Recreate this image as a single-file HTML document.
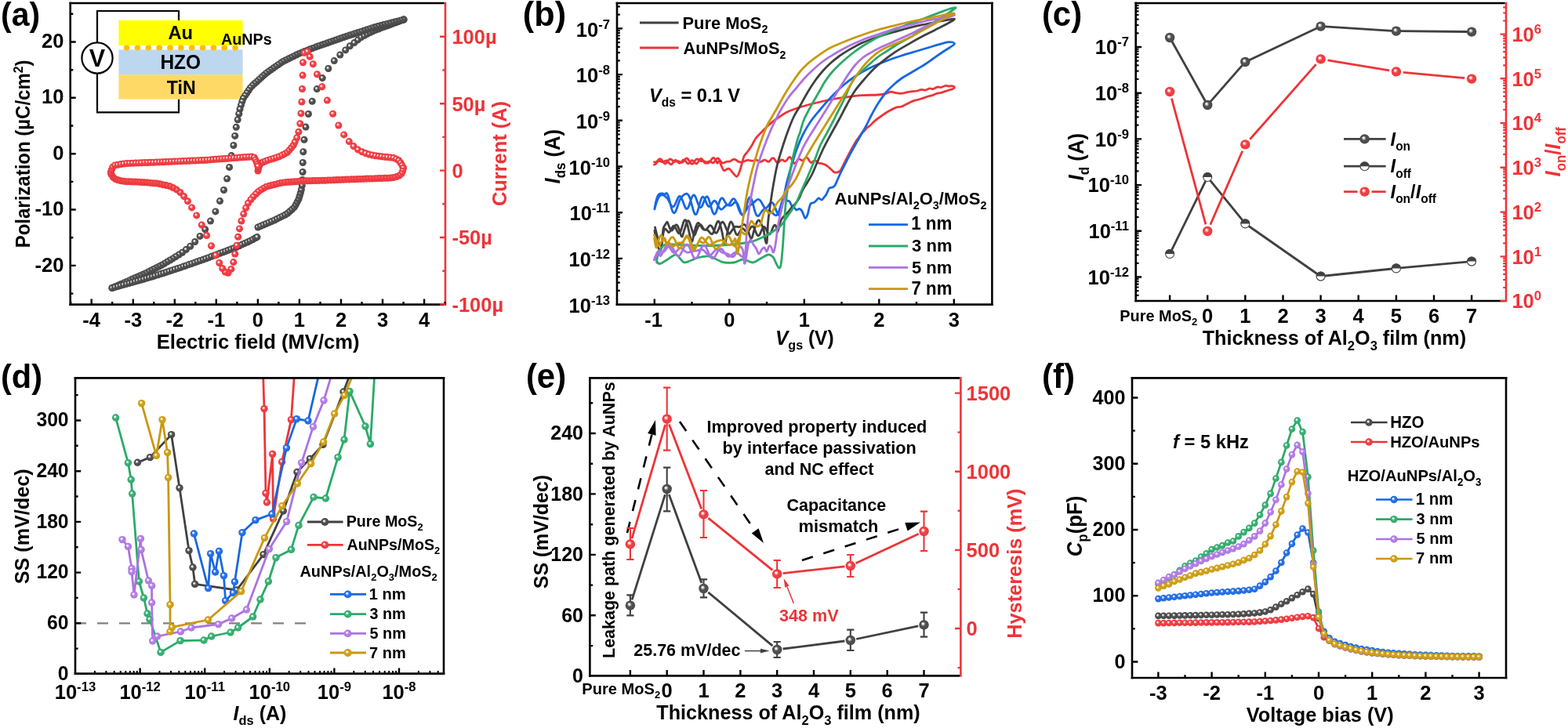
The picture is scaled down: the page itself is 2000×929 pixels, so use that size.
<!DOCTYPE html>
<html lang="en"><head><meta charset="utf-8"><title>Figure</title>
<style>html,body{margin:0;padding:0;background:#fff}body{width:2000px;height:929px}svg{display:block}text{font-family:'Liberation Sans',Arial,Helvetica,sans-serif;font-weight:bold}</style></head>
<body>

<svg width="2000" height="929" viewBox="0 0 2000 929">
<rect width="2000" height="929" fill="#fff"/>
<defs>
<radialGradient id="sk" cx="0.5" cy="0.5" r="0.52" fx="0.37" fy="0.35"><stop offset="0" stop-color="#fff"/><stop offset="0.13" stop-color="#f4f4f4"/><stop offset="0.46" stop-color="#4e4e4e"/><stop offset="0.8" stop-color="#4e4e4e"/><stop offset="1" stop-color="#3a3a3a"/></radialGradient>
<radialGradient id="sr" cx="0.5" cy="0.5" r="0.52" fx="0.37" fy="0.35"><stop offset="0" stop-color="#fff"/><stop offset="0.13" stop-color="#fff2f2"/><stop offset="0.46" stop-color="#f03e44"/><stop offset="0.8" stop-color="#f03e44"/><stop offset="1" stop-color="#e82a30"/></radialGradient>
<radialGradient id="sb" cx="0.5" cy="0.5" r="0.52" fx="0.37" fy="0.35"><stop offset="0" stop-color="#fff"/><stop offset="0.13" stop-color="#f0f6ff"/><stop offset="0.46" stop-color="#2470e8"/><stop offset="0.8" stop-color="#2470e8"/><stop offset="1" stop-color="#0f58d0"/></radialGradient>
<radialGradient id="sg" cx="0.5" cy="0.5" r="0.52" fx="0.37" fy="0.35"><stop offset="0" stop-color="#fff"/><stop offset="0.13" stop-color="#f0fff6"/><stop offset="0.46" stop-color="#36b072"/><stop offset="0.8" stop-color="#36b072"/><stop offset="1" stop-color="#209858"/></radialGradient>
<radialGradient id="sp" cx="0.5" cy="0.5" r="0.52" fx="0.37" fy="0.35"><stop offset="0" stop-color="#fff"/><stop offset="0.13" stop-color="#fbf5ff"/><stop offset="0.46" stop-color="#b37ee6"/><stop offset="0.8" stop-color="#b37ee6"/><stop offset="1" stop-color="#a066d8"/></radialGradient>
<radialGradient id="sy" cx="0.5" cy="0.5" r="0.52" fx="0.37" fy="0.35"><stop offset="0" stop-color="#fff"/><stop offset="0.13" stop-color="#fffbea"/><stop offset="0.46" stop-color="#d0a018"/><stop offset="0.8" stop-color="#d0a018"/><stop offset="1" stop-color="#ba8a04"/></radialGradient>
</defs>

<g id="pa">
<path d="M88.4 4H566.7" stroke="#000" stroke-width="2.6" fill="none"/>
<path d="M88.4 388.6H566.7" stroke="#000" stroke-width="2.6" fill="none"/>
<path d="M89.7 2.7V389.9" stroke="#000" stroke-width="2.6" fill="none"/>
<path d="M568 2.7V389.9" stroke="#ee3438" stroke-width="2.6" fill="none"/>
<path d="M116.7 388.6V381.6M169.8 388.6V381.6M222.8 388.6V381.6M275.8 388.6V381.6M328.9 388.6V381.6M381.9 388.6V381.6M435 388.6V381.6M488 388.6V381.6M541.1 388.6V381.6" stroke="#000" stroke-width="2.4" fill="none"/>
<path d="M90.2 388.6V385M143.2 388.6V385M196.3 388.6V385M249.3 388.6V385M302.4 388.6V385M355.4 388.6V385M408.5 388.6V385M461.5 388.6V385M514.6 388.6V385M567.6 388.6V385" stroke="#000" stroke-width="2.4" fill="none"/>
<path d="M89.7 338.9H96.7M89.7 267.5H96.7M89.7 196.2H96.7M89.7 124.8H96.7M89.7 53.5H96.7" stroke="#000" stroke-width="2.4" fill="none"/>
<path d="M89.7 374.6H93.3M89.7 303.2H93.3M89.7 231.9H93.3M89.7 160.5H93.3M89.7 89.2H93.3M89.7 17.8H93.3" stroke="#000" stroke-width="2.4" fill="none"/>
<path d="M568 388.4H561M568 303H561M568 217.6H561M568 132.2H561M568 46.8H561" stroke="#ee3438" stroke-width="2.4" fill="none"/>
<path d="M568 345.7H564.4M568 260.3H564.4M568 174.9H564.4M568 89.5H564.4" stroke="#ee3438" stroke-width="2.4" fill="none"/>
<text transform="translate(116.7 417.2) scale(1 1.04)" font-size="25.5" text-anchor="middle"><tspan>-4</tspan></text>
<text transform="translate(169.8 417.2) scale(1 1.04)" font-size="25.5" text-anchor="middle"><tspan>-3</tspan></text>
<text transform="translate(222.8 417.2) scale(1 1.04)" font-size="25.5" text-anchor="middle"><tspan>-2</tspan></text>
<text transform="translate(275.8 417.2) scale(1 1.04)" font-size="25.5" text-anchor="middle"><tspan>-1</tspan></text>
<text transform="translate(328.9 417.2) scale(1 1.04)" font-size="25.5" text-anchor="middle"><tspan>0</tspan></text>
<text transform="translate(381.9 417.2) scale(1 1.04)" font-size="25.5" text-anchor="middle"><tspan>1</tspan></text>
<text transform="translate(435 417.2) scale(1 1.04)" font-size="25.5" text-anchor="middle"><tspan>2</tspan></text>
<text transform="translate(488 417.2) scale(1 1.04)" font-size="25.5" text-anchor="middle"><tspan>3</tspan></text>
<text transform="translate(541.1 417.2) scale(1 1.04)" font-size="25.5" text-anchor="middle"><tspan>4</tspan></text>
<text transform="translate(81.4 346.5) scale(1 1.04)" font-size="25.5" text-anchor="end"><tspan>-20</tspan></text>
<text transform="translate(81.4 275.1) scale(1 1.04)" font-size="25.5" text-anchor="end"><tspan>-10</tspan></text>
<text transform="translate(81.4 203.8) scale(1 1.04)" font-size="25.5" text-anchor="end"><tspan>0</tspan></text>
<text transform="translate(81.4 132.4) scale(1 1.04)" font-size="25.5" text-anchor="end"><tspan>10</tspan></text>
<text transform="translate(81.4 61.1) scale(1 1.04)" font-size="25.5" text-anchor="end"><tspan>20</tspan></text>
<text transform="translate(576.4 56.2) scale(1 1.04)" font-size="25.5" fill="#ee3438"><tspan>100µ</tspan></text>
<text transform="translate(576.4 141.6) scale(1 1.04)" font-size="25.5" fill="#ee3438"><tspan>50µ</tspan></text>
<text transform="translate(576.4 227) scale(1 1.04)" font-size="25.5" fill="#ee3438"><tspan>0</tspan></text>
<text transform="translate(576.4 312.4) scale(1 1.04)" font-size="25.5" fill="#ee3438"><tspan>-50µ</tspan></text>
<text transform="translate(576.4 397.8) scale(1 1.04)" font-size="25.5" fill="#ee3438"><tspan>-100µ</tspan></text>
<text transform="translate(199.7 444.5) scale(1 1.04)" font-size="25.6"><tspan>Electric field (MV/cm)</tspan></text>
<text transform="translate(38.2 316.3) rotate(-90) scale(1 1.04)" font-size="24"><tspan>Polarization (µC/cm</tspan><tspan dy="-9" font-size="15.7">2</tspan><tspan dy="9">)</tspan></text>
<text transform="translate(645.5 263) rotate(-90) scale(1 1.04)" font-size="25.4" fill="#ee3438"><tspan>Current (A)</tspan></text>
<text transform="translate(1 32.5) scale(1 1.04)" font-size="41"><tspan>(a)</tspan></text>
<path d="M228 26V14H124V54M124 94V143.4H228V126.6" fill="none" stroke="#000" stroke-width="2.2"/>
<rect x="151.4" y="26" width="158.2" height="32" fill="#ffff00"/>
<rect x="151.4" y="63.4" width="158.2" height="32.2" fill="#bdd7ee"/>
<rect x="151.4" y="95.4" width="158.2" height="31.2" fill="#ffd966"/>
<g fill="#ffc000"><ellipse cx="161.6" cy="61" rx="3.9" ry="3.4"/><ellipse cx="175.4" cy="61" rx="3.9" ry="3.4"/><ellipse cx="189.3" cy="61" rx="3.9" ry="3.4"/><ellipse cx="203.1" cy="61" rx="3.9" ry="3.4"/><ellipse cx="217" cy="61" rx="3.9" ry="3.4"/><ellipse cx="230.8" cy="61" rx="3.9" ry="3.4"/><ellipse cx="244.7" cy="61" rx="3.9" ry="3.4"/><ellipse cx="258.6" cy="61" rx="3.9" ry="3.4"/><ellipse cx="272.4" cy="61" rx="3.9" ry="3.4"/><ellipse cx="286.2" cy="61" rx="3.9" ry="3.4"/><ellipse cx="300.1" cy="61" rx="3.9" ry="3.4"/></g>
<circle cx="124" cy="74" r="19.6" fill="#fff" stroke="#000" stroke-width="2.2"/>
<text transform="translate(113.8 85) scale(1 1.04)" font-size="30.6"><tspan>V</tspan></text>
<text transform="translate(214.4 50) scale(1 1.04)" font-size="23.7"><tspan>Au</tspan></text>
<text transform="translate(204.4 88) scale(1 1.04)" font-size="24.5"><tspan>HZO</tspan></text>
<text transform="translate(212.7 119.6) scale(1 1.04)" font-size="23.2"><tspan>TiN</tspan></text>
<text transform="translate(281.9 57) scale(1 1.04)" font-size="19.8"><tspan>AuNPs</tspan></text>
<g fill="url(#sk)"><circle cx="329" cy="290" r="4.5"/><circle cx="332.5" cy="288.5" r="4.5"/><circle cx="336" cy="287" r="4.5"/><circle cx="339.5" cy="285.5" r="4.5"/><circle cx="343" cy="284" r="4.5"/><circle cx="346.5" cy="282.5" r="4.5"/><circle cx="350" cy="281" r="4.5"/><circle cx="353.4" cy="279.3" r="4.5"/><circle cx="356.8" cy="277.6" r="4.5"/><circle cx="360.2" cy="275.9" r="4.5"/><circle cx="363.6" cy="274.2" r="4.5"/><circle cx="366.8" cy="272.3" r="4.5"/><circle cx="369.6" cy="269.7" r="4.5"/><circle cx="372.5" cy="267.2" r="4.5"/><circle cx="375.3" cy="264.6" r="4.5"/><circle cx="377.3" cy="261.3" r="4.5"/><circle cx="379.1" cy="257.8" r="4.5"/><circle cx="380.9" cy="254.2" r="4.5"/><circle cx="382.1" cy="250.3" r="4.5"/><circle cx="383.3" cy="246.3" r="4.5"/><circle cx="384.4" cy="242" r="4.5"/><circle cx="385.3" cy="236.7" r="4.5"/><circle cx="385.8" cy="229.4" r="4.5"/><circle cx="386.1" cy="219.5" r="4.5"/><circle cx="386.3" cy="207.5" r="4.5"/><circle cx="386.8" cy="193.7" r="4.5"/><circle cx="388" cy="178.3" r="4.5"/><circle cx="390" cy="162.1" r="4.5"/><circle cx="393.4" cy="145.5" r="4.5"/><circle cx="398.2" cy="129.2" r="4.5"/><circle cx="404.3" cy="113.6" r="4.5"/><circle cx="411.2" cy="99.6" r="4.5"/><circle cx="418.8" cy="87.5" r="4.5"/><circle cx="426.3" cy="77.6" r="4.5"/><circle cx="433.8" cy="70" r="4.5"/><circle cx="440.7" cy="63.9" r="4.5"/><circle cx="446.3" cy="58.8" r="4.5"/><circle cx="451.9" cy="54.6" r="4.5"/><circle cx="456.5" cy="50.9" r="4.5"/><circle cx="460.7" cy="47.6" r="4.5"/><circle cx="464.7" cy="45.4" r="4.5"/><circle cx="468.4" cy="43.4" r="4.5"/><circle cx="472.1" cy="41.6" r="4.5"/><circle cx="475.7" cy="39.9" r="4.5"/><circle cx="479.2" cy="38.3" r="4.5"/><circle cx="482.8" cy="37" r="4.5"/><circle cx="486.3" cy="35.6" r="4.5"/><circle cx="489.9" cy="34.3" r="4.5"/><circle cx="493.5" cy="33" r="4.5"/><circle cx="497" cy="31.7" r="4.5"/><circle cx="500.6" cy="30.4" r="4.5"/><circle cx="504.2" cy="29" r="4.5"/><circle cx="507.7" cy="27.7" r="4.5"/><circle cx="511.3" cy="26.4" r="4.5"/><circle cx="514.8" cy="25.1" r="4.5"/><circle cx="515" cy="25" r="4.5"/><circle cx="515" cy="25" r="4.5"/><circle cx="511.3" cy="25.9" r="4.5"/><circle cx="507.6" cy="26.9" r="4.5"/><circle cx="504" cy="27.8" r="4.5"/><circle cx="500.3" cy="28.8" r="4.5"/><circle cx="496.6" cy="29.7" r="4.5"/><circle cx="492.9" cy="30.7" r="4.5"/><circle cx="489.2" cy="31.6" r="4.5"/><circle cx="485.6" cy="32.6" r="4.5"/><circle cx="481.9" cy="33.5" r="4.5"/><circle cx="478.2" cy="34.6" r="4.5"/><circle cx="474.6" cy="35.7" r="4.5"/><circle cx="471" cy="36.9" r="4.5"/><circle cx="467.4" cy="38.1" r="4.5"/><circle cx="463.8" cy="39.3" r="4.5"/><circle cx="460.2" cy="40.4" r="4.5"/><circle cx="456.5" cy="41.6" r="4.5"/><circle cx="452.9" cy="42.8" r="4.5"/><circle cx="449.3" cy="44" r="4.5"/><circle cx="445.7" cy="45.1" r="4.5"/><circle cx="442.1" cy="46.3" r="4.5"/><circle cx="438.5" cy="47.5" r="4.5"/><circle cx="434.9" cy="48.8" r="4.5"/><circle cx="431.3" cy="50" r="4.5"/><circle cx="427.7" cy="51.3" r="4.5"/><circle cx="424.1" cy="52.6" r="4.5"/><circle cx="420.6" cy="53.8" r="4.5"/><circle cx="417" cy="55.1" r="4.5"/><circle cx="413.4" cy="56.3" r="4.5"/><circle cx="409.8" cy="57.6" r="4.5"/><circle cx="406.2" cy="58.8" r="4.5"/><circle cx="402.6" cy="60.1" r="4.5"/><circle cx="399.1" cy="61.4" r="4.5"/><circle cx="395.5" cy="62.8" r="4.5"/><circle cx="392" cy="64.2" r="4.5"/><circle cx="388.5" cy="65.6" r="4.5"/><circle cx="384.9" cy="67" r="4.5"/><circle cx="381.4" cy="68.4" r="4.5"/><circle cx="378" cy="70" r="4.5"/><circle cx="374.6" cy="71.7" r="4.5"/><circle cx="371.2" cy="73.4" r="4.5"/><circle cx="367.8" cy="75.1" r="4.5"/><circle cx="364.4" cy="76.8" r="4.5"/><circle cx="361" cy="78.5" r="4.5"/><circle cx="357.8" cy="80.6" r="4.5"/><circle cx="354.7" cy="82.7" r="4.5"/><circle cx="351.5" cy="84.9" r="4.5"/><circle cx="348.4" cy="87.1" r="4.5"/><circle cx="345.3" cy="89.3" r="4.5"/><circle cx="342.2" cy="91.5" r="4.5"/><circle cx="339.2" cy="93.7" r="4.5"/><circle cx="336.3" cy="96.3" r="4.5"/><circle cx="333.5" cy="98.8" r="4.5"/><circle cx="330.7" cy="101.4" r="4.5"/><circle cx="327.8" cy="104" r="4.5"/><circle cx="324.9" cy="106.5" r="4.5"/><circle cx="322.1" cy="109.1" r="4.5"/><circle cx="319.4" cy="111.9" r="4.5"/><circle cx="317.2" cy="115.2" r="4.5"/><circle cx="315" cy="118.5" r="4.5"/><circle cx="312.7" cy="121.9" r="4.5"/><circle cx="310.4" cy="125.4" r="4.5"/><circle cx="308.9" cy="129.5" r="4.5"/><circle cx="307.5" cy="134.1" r="4.5"/><circle cx="306" cy="139.2" r="4.5"/><circle cx="304.8" cy="145.2" r="4.5"/><circle cx="303.2" cy="152.8" r="4.5"/><circle cx="301.3" cy="162.3" r="4.5"/><circle cx="299.7" cy="173.4" r="4.5"/><circle cx="297.9" cy="185.5" r="4.5"/><circle cx="295.2" cy="198.6" r="4.5"/><circle cx="292.6" cy="213.4" r="4.5"/><circle cx="289.6" cy="228.1" r="4.5"/><circle cx="285.5" cy="242.5" r="4.5"/><circle cx="280.5" cy="256.6" r="4.5"/><circle cx="274.9" cy="269.9" r="4.5"/><circle cx="268.5" cy="282.1" r="4.5"/><circle cx="261.7" cy="292.8" r="4.5"/><circle cx="255.1" cy="301.4" r="4.5"/><circle cx="248.7" cy="308.5" r="4.5"/><circle cx="242.7" cy="314.2" r="4.5"/><circle cx="237.3" cy="318.6" r="4.5"/><circle cx="232.5" cy="322.2" r="4.5"/><circle cx="228.2" cy="325" r="4.5"/><circle cx="224.3" cy="327.5" r="4.5"/><circle cx="220.5" cy="329.9" r="4.5"/><circle cx="216.9" cy="332" r="4.5"/><circle cx="213.3" cy="334.1" r="4.5"/><circle cx="209.8" cy="336.2" r="4.5"/><circle cx="206.4" cy="338.2" r="4.5"/><circle cx="202.9" cy="340" r="4.5"/><circle cx="199.4" cy="341.8" r="4.5"/><circle cx="196" cy="343.5" r="4.5"/><circle cx="192.5" cy="345.2" r="4.5"/><circle cx="189.1" cy="346.9" r="4.5"/><circle cx="185.7" cy="348.7" r="4.5"/><circle cx="182.2" cy="350.2" r="4.5"/><circle cx="178.8" cy="351.8" r="4.5"/><circle cx="175.3" cy="353.3" r="4.5"/><circle cx="171.8" cy="354.8" r="4.5"/><circle cx="168.3" cy="356.3" r="4.5"/><circle cx="164.8" cy="357.9" r="4.5"/><circle cx="161.4" cy="359.4" r="4.5"/><circle cx="157.9" cy="360.9" r="4.5"/><circle cx="154.4" cy="362.5" r="4.5"/><circle cx="150.9" cy="364" r="4.5"/><circle cx="147.5" cy="365.5" r="4.5"/><circle cx="144" cy="367.1" r="4.5"/><circle cx="143" cy="367.5" r="4.5"/><circle cx="143" cy="367.5" r="4.5"/><circle cx="146.7" cy="366.5" r="4.5"/><circle cx="150.3" cy="365.5" r="4.5"/><circle cx="154" cy="364.4" r="4.5"/><circle cx="157.6" cy="363.4" r="4.5"/><circle cx="161.3" cy="362.4" r="4.5"/><circle cx="165" cy="361.4" r="4.5"/><circle cx="168.6" cy="360.4" r="4.5"/><circle cx="172.3" cy="359.3" r="4.5"/><circle cx="175.9" cy="358.3" r="4.5"/><circle cx="179.6" cy="357.2" r="4.5"/><circle cx="183.2" cy="356.2" r="4.5"/><circle cx="186.9" cy="355.1" r="4.5"/><circle cx="190.5" cy="354" r="4.5"/><circle cx="194.2" cy="353" r="4.5"/><circle cx="197.8" cy="351.9" r="4.5"/><circle cx="201.5" cy="350.8" r="4.5"/><circle cx="205.1" cy="349.6" r="4.5"/><circle cx="208.7" cy="348.5" r="4.5"/><circle cx="212.3" cy="347.3" r="4.5"/><circle cx="215.9" cy="346.1" r="4.5"/><circle cx="219.5" cy="344.9" r="4.5"/><circle cx="223.1" cy="343.7" r="4.5"/><circle cx="226.8" cy="342.6" r="4.5"/><circle cx="230.4" cy="341.4" r="4.5"/><circle cx="233.9" cy="340.1" r="4.5"/><circle cx="237.5" cy="338.9" r="4.5"/><circle cx="241.1" cy="337.6" r="4.5"/><circle cx="244.7" cy="336.4" r="4.5"/><circle cx="248.3" cy="335.1" r="4.5"/><circle cx="251.9" cy="333.8" r="4.5"/><circle cx="255.5" cy="332.6" r="4.5"/><circle cx="259.1" cy="331.3" r="4.5"/><circle cx="262.6" cy="330" r="4.5"/><circle cx="266.2" cy="328.7" r="4.5"/><circle cx="269.7" cy="327.3" r="4.5"/><circle cx="273.3" cy="326" r="4.5"/><circle cx="276.9" cy="324.7" r="4.5"/><circle cx="280.4" cy="323.3" r="4.5"/><circle cx="284" cy="322" r="4.5"/><circle cx="287.5" cy="320.7" r="4.5"/><circle cx="291.1" cy="319.3" r="4.5"/><circle cx="294.6" cy="318" r="4.5"/><circle cx="298.2" cy="316.7" r="4.5"/><circle cx="301.7" cy="315.2" r="4.5"/><circle cx="305.2" cy="313.7" r="4.5"/><circle cx="308.6" cy="312.1" r="4.5"/><circle cx="312.1" cy="310.6" r="4.5"/><circle cx="315.6" cy="309" r="4.5"/><circle cx="319" cy="307.4" r="4.5"/><circle cx="322.4" cy="305.7" r="4.5"/><circle cx="325.7" cy="303.8" r="4.5"/><circle cx="328" cy="302.6" r="4.5"/></g>
<g fill="url(#sr)"><circle cx="329" cy="218" r="4.5"/><circle cx="329.5" cy="215.5" r="4.5"/><circle cx="330" cy="212.9" r="4.5"/><circle cx="331.1" cy="210.5" r="4.5"/><circle cx="332.6" cy="208.3" r="4.5"/><circle cx="335.4" cy="207" r="4.5"/><circle cx="338.4" cy="205.7" r="4.5"/><circle cx="341.8" cy="204.4" r="4.5"/><circle cx="345.4" cy="203.3" r="4.5"/><circle cx="349.1" cy="202.2" r="4.5"/><circle cx="352.7" cy="201" r="4.5"/><circle cx="356.3" cy="199.8" r="4.5"/><circle cx="359.7" cy="198.1" r="4.5"/><circle cx="363.1" cy="196.4" r="4.5"/><circle cx="366.4" cy="194.5" r="4.5"/><circle cx="369" cy="191.6" r="4.5"/><circle cx="371.7" cy="188.5" r="4.5"/><circle cx="374.3" cy="185.3" r="4.5"/><circle cx="376.2" cy="181.1" r="4.5"/><circle cx="378.7" cy="175.7" r="4.5"/><circle cx="380.9" cy="168.2" r="4.5"/><circle cx="382.8" cy="157.8" r="4.5"/><circle cx="384" cy="144.8" r="4.5"/><circle cx="384.9" cy="130" r="4.5"/><circle cx="385.5" cy="113.5" r="4.5"/><circle cx="386.1" cy="96.1" r="4.5"/><circle cx="386.5" cy="79.7" r="4.5"/><circle cx="388.2" cy="67.4" r="4.5"/><circle cx="392.1" cy="65.8" r="4.5"/><circle cx="395.2" cy="72.2" r="4.5"/><circle cx="399.3" cy="81.8" r="4.5"/><circle cx="404.5" cy="94.8" r="4.5"/><circle cx="410.7" cy="110.7" r="4.5"/><circle cx="417.4" cy="128.1" r="4.5"/><circle cx="424.6" cy="145.2" r="4.5"/><circle cx="431.8" cy="160" r="4.5"/><circle cx="438.7" cy="171.9" r="4.5"/><circle cx="445.3" cy="180.6" r="4.5"/><circle cx="451" cy="186.6" r="4.5"/><circle cx="456.5" cy="190.9" r="4.5"/><circle cx="461.7" cy="193.8" r="4.5"/><circle cx="466.4" cy="195.6" r="4.5"/><circle cx="470.7" cy="197.1" r="4.5"/><circle cx="475" cy="198" r="4.5"/><circle cx="479" cy="198.8" r="4.5"/><circle cx="482.9" cy="199.3" r="4.5"/><circle cx="486.7" cy="199.8" r="4.5"/><circle cx="490.6" cy="200.2" r="4.5"/><circle cx="494.3" cy="200.6" r="4.5"/><circle cx="498.1" cy="201" r="4.5"/><circle cx="501.9" cy="201.4" r="4.5"/><circle cx="505.4" cy="202.9" r="4.5"/><circle cx="508.6" cy="204.8" r="4.5"/><circle cx="511" cy="207.7" r="4.5"/><circle cx="512.9" cy="211.1" r="4.5"/><circle cx="514.4" cy="214.4" r="4.5"/><circle cx="514.4" cy="214.4" r="4.5"/><circle cx="513.6" cy="218.2" r="4.5"/><circle cx="512.2" cy="221.6" r="4.5"/><circle cx="509.2" cy="224.1" r="4.5"/><circle cx="505.7" cy="225.6" r="4.5"/><circle cx="502.1" cy="226.5" r="4.5"/><circle cx="498.3" cy="227.1" r="4.5"/><circle cx="494.5" cy="227.2" r="4.5"/><circle cx="490.7" cy="227.3" r="4.5"/><circle cx="486.9" cy="227.5" r="4.5"/><circle cx="483.1" cy="227.6" r="4.5"/><circle cx="479.3" cy="227.7" r="4.5"/><circle cx="475.5" cy="227.9" r="4.5"/><circle cx="471.7" cy="228" r="4.5"/><circle cx="467.9" cy="228.1" r="4.5"/><circle cx="464.1" cy="228.3" r="4.5"/><circle cx="460.3" cy="228.4" r="4.5"/><circle cx="456.5" cy="228.5" r="4.5"/><circle cx="452.7" cy="228.7" r="4.5"/><circle cx="449" cy="228.8" r="4.5"/><circle cx="445.2" cy="229" r="4.5"/><circle cx="441.4" cy="229.1" r="4.5"/><circle cx="437.6" cy="229.3" r="4.5"/><circle cx="433.8" cy="229.4" r="4.5"/><circle cx="430" cy="229.6" r="4.5"/><circle cx="426.2" cy="229.8" r="4.5"/><circle cx="422.4" cy="229.9" r="4.5"/><circle cx="418.6" cy="230" r="4.5"/><circle cx="414.8" cy="230.2" r="4.5"/><circle cx="411" cy="230.3" r="4.5"/><circle cx="407.2" cy="230.4" r="4.5"/><circle cx="403.4" cy="230.5" r="4.5"/><circle cx="399.6" cy="230.6" r="4.5"/><circle cx="395.8" cy="230.7" r="4.5"/><circle cx="392" cy="230.8" r="4.5"/><circle cx="388.2" cy="230.9" r="4.5"/><circle cx="384.4" cy="231.1" r="4.5"/><circle cx="380.6" cy="231.4" r="4.5"/><circle cx="376.8" cy="231.7" r="4.5"/><circle cx="373" cy="232" r="4.5"/><circle cx="369.2" cy="232.3" r="4.5"/><circle cx="365.5" cy="232.6" r="4.5"/><circle cx="361.7" cy="232.9" r="4.5"/><circle cx="357.9" cy="233.5" r="4.5"/><circle cx="354.2" cy="234.4" r="4.5"/><circle cx="350.5" cy="235.4" r="4.5"/><circle cx="346.8" cy="236.3" r="4.5"/><circle cx="343.1" cy="237.2" r="4.5"/><circle cx="339.4" cy="238.4" r="4.5"/><circle cx="336" cy="240.4" r="4.5"/><circle cx="332.6" cy="242.4" r="4.5"/><circle cx="329.2" cy="244.8" r="4.5"/><circle cx="326.3" cy="247.7" r="4.5"/><circle cx="323" cy="251" r="4.5"/><circle cx="319.9" cy="254.7" r="4.5"/><circle cx="316.5" cy="259.3" r="4.5"/><circle cx="313.6" cy="265.4" r="4.5"/><circle cx="310.7" cy="273.1" r="4.5"/><circle cx="307.9" cy="282" r="4.5"/><circle cx="305.5" cy="291.9" r="4.5"/><circle cx="303.7" cy="302.3" r="4.5"/><circle cx="302" cy="313.2" r="4.5"/><circle cx="299.8" cy="324" r="4.5"/><circle cx="297.8" cy="334.6" r="4.5"/><circle cx="294.9" cy="343.4" r="4.5"/><circle cx="291" cy="348.3" r="4.5"/><circle cx="287.3" cy="347" r="4.5"/><circle cx="283.7" cy="342.5" r="4.5"/><circle cx="279.7" cy="335.5" r="4.5"/><circle cx="275.2" cy="325.7" r="4.5"/><circle cx="269.5" cy="313.8" r="4.5"/><circle cx="263.6" cy="300.5" r="4.5"/><circle cx="257.3" cy="287" r="4.5"/><circle cx="250.7" cy="274.9" r="4.5"/><circle cx="244.6" cy="264.9" r="4.5"/><circle cx="239.4" cy="256.8" r="4.5"/><circle cx="234.6" cy="250.6" r="4.5"/><circle cx="229.9" cy="245.5" r="4.5"/><circle cx="225.1" cy="241.9" r="4.5"/><circle cx="220.6" cy="239.5" r="4.5"/><circle cx="216.3" cy="237.5" r="4.5"/><circle cx="212" cy="236.6" r="4.5"/><circle cx="207.9" cy="235.7" r="4.5"/><circle cx="203.9" cy="234.8" r="4.5"/><circle cx="199.9" cy="234" r="4.5"/><circle cx="196.1" cy="233.7" r="4.5"/><circle cx="192.2" cy="233.4" r="4.5"/><circle cx="188.4" cy="233.1" r="4.5"/><circle cx="184.5" cy="232.8" r="4.5"/><circle cx="180.7" cy="232.5" r="4.5"/><circle cx="176.9" cy="232.3" r="4.5"/><circle cx="173.1" cy="232.1" r="4.5"/><circle cx="169.3" cy="232" r="4.5"/><circle cx="165.5" cy="231.8" r="4.5"/><circle cx="161.7" cy="231.7" r="4.5"/><circle cx="158" cy="231.3" r="4.5"/><circle cx="154.2" cy="230.7" r="4.5"/><circle cx="150.5" cy="229.8" r="4.5"/><circle cx="147" cy="228.4" r="4.5"/><circle cx="144.2" cy="226" r="4.5"/><circle cx="142.1" cy="222.9" r="4.5"/><circle cx="141.4" cy="220.4" r="4.5"/><circle cx="141.4" cy="220.4" r="4.5"/><circle cx="142.3" cy="216.7" r="4.5"/><circle cx="143.7" cy="213.3" r="4.5"/><circle cx="146.6" cy="210.9" r="4.5"/><circle cx="150.3" cy="210.3" r="4.5"/><circle cx="154" cy="209.6" r="4.5"/><circle cx="157.8" cy="209" r="4.5"/><circle cx="161.6" cy="208.5" r="4.5"/><circle cx="165.4" cy="208.4" r="4.5"/><circle cx="169.1" cy="208.2" r="4.5"/><circle cx="172.9" cy="208.1" r="4.5"/><circle cx="176.7" cy="207.9" r="4.5"/><circle cx="180.5" cy="207.8" r="4.5"/><circle cx="184.3" cy="207.6" r="4.5"/><circle cx="188.1" cy="207.5" r="4.5"/><circle cx="191.9" cy="207.3" r="4.5"/><circle cx="195.7" cy="207.2" r="4.5"/><circle cx="199.5" cy="207" r="4.5"/><circle cx="203.3" cy="206.9" r="4.5"/><circle cx="207.1" cy="206.7" r="4.5"/><circle cx="210.9" cy="206.5" r="4.5"/><circle cx="214.7" cy="206.4" r="4.5"/><circle cx="218.5" cy="206.2" r="4.5"/><circle cx="222.3" cy="206.1" r="4.5"/><circle cx="226.1" cy="205.9" r="4.5"/><circle cx="229.9" cy="205.8" r="4.5"/><circle cx="233.7" cy="205.6" r="4.5"/><circle cx="237.5" cy="205.4" r="4.5"/><circle cx="241.3" cy="205.3" r="4.5"/><circle cx="245.1" cy="205.1" r="4.5"/><circle cx="248.9" cy="205" r="4.5"/><circle cx="252.7" cy="204.8" r="4.5"/><circle cx="256.5" cy="204.6" r="4.5"/><circle cx="260.3" cy="204.5" r="4.5"/><circle cx="264.1" cy="204.2" r="4.5"/><circle cx="267.9" cy="203.9" r="4.5"/><circle cx="271.6" cy="203.6" r="4.5"/><circle cx="275.4" cy="203.3" r="4.5"/><circle cx="279.2" cy="203.1" r="4.5"/><circle cx="283" cy="202.8" r="4.5"/><circle cx="286.8" cy="202.5" r="4.5"/><circle cx="290.6" cy="202.2" r="4.5"/><circle cx="294.4" cy="201.9" r="4.5"/><circle cx="298.2" cy="201.6" r="4.5"/><circle cx="302" cy="201.4" r="4.5"/><circle cx="305.7" cy="201.1" r="4.5"/><circle cx="309.5" cy="200.8" r="4.5"/><circle cx="313.3" cy="200.5" r="4.5"/><circle cx="317.1" cy="200.2" r="4.5"/><circle cx="320.9" cy="200.1" r="4.5"/><circle cx="324.3" cy="201" r="4.5"/><circle cx="325.9" cy="203.9" r="4.5"/><circle cx="327.2" cy="206.7" r="4.5"/><circle cx="328.1" cy="209.3" r="4.5"/><circle cx="329" cy="212" r="4.5"/><circle cx="329" cy="212" r="4.5"/></g>
</g>

<g id="pb">
<path d="M785.7 4H1266.7" stroke="#000" stroke-width="2.6" fill="none"/>
<path d="M785.7 388.6H1266.7" stroke="#000" stroke-width="2.6" fill="none"/>
<path d="M787 2.7V389.9" stroke="#000" stroke-width="2.6" fill="none"/>
<path d="M1265.4 2.7V389.9" stroke="#000" stroke-width="2.6" fill="none"/>
<path d="M834.8 388.6V381.6M930.3 388.6V381.6M1025.8 388.6V381.6M1121.3 388.6V381.6M1216.8 388.6V381.6" stroke="#000" stroke-width="2.4" fill="none"/>
<path d="M882.5 388.6V385M978 388.6V385M1073.5 388.6V385M1169 388.6V385" stroke="#000" stroke-width="2.4" fill="none"/>
<path d="M787 36.4H794M787 95.1H794M787 153.8H794M787 212.5H794M787 271.2H794M787 329.9H794" stroke="#000" stroke-width="2.4" fill="none"/>
<path d="M787 370.9H790.8M787 360.6H790.8M787 353.3H790.8M787 347.6H790.8M787 342.9H790.8M787 339H790.8M787 335.6H790.8M787 332.6H790.8M787 312.2H790.8M787 301.9H790.8M787 294.6H790.8M787 288.9H790.8M787 284.2H790.8M787 280.3H790.8M787 276.9H790.8M787 273.9H790.8M787 253.5H790.8M787 243.2H790.8M787 235.9H790.8M787 230.2H790.8M787 225.5H790.8M787 221.6H790.8M787 218.2H790.8M787 215.2H790.8M787 194.8H790.8M787 184.5H790.8M787 177.2H790.8M787 171.5H790.8M787 166.8H790.8M787 162.9H790.8M787 159.5H790.8M787 156.5H790.8M787 136.1H790.8M787 125.8H790.8M787 118.5H790.8M787 112.8H790.8M787 108.1H790.8M787 104.2H790.8M787 100.8H790.8M787 97.8H790.8M787 77.4H790.8M787 67.1H790.8M787 59.8H790.8M787 54.1H790.8M787 49.4H790.8M787 45.5H790.8M787 42.1H790.8M787 39.1H790.8M787 18.7H790.8M787 8.4H790.8" stroke="#000" stroke-width="2.2" fill="none"/>
<text transform="translate(833.6 416.6) scale(1 1.04)" font-size="25.5" text-anchor="middle"><tspan>-1</tspan></text>
<text transform="translate(930.3 416.6) scale(1 1.04)" font-size="25.5" text-anchor="middle"><tspan>0</tspan></text>
<text transform="translate(1025.8 416.6) scale(1 1.04)" font-size="25.5" text-anchor="middle"><tspan>1</tspan></text>
<text transform="translate(1121.3 416.6) scale(1 1.04)" font-size="25.5" text-anchor="middle"><tspan>2</tspan></text>
<text transform="translate(1216.8 416.6) scale(1 1.04)" font-size="25.5" text-anchor="middle"><tspan>3</tspan></text>
<text transform="translate(778 46.5) scale(1 1.04)" font-size="25.5" text-anchor="end"><tspan>10</tspan><tspan dy="-9.6" font-size="16.7">-7</tspan></text>
<text transform="translate(778 105.2) scale(1 1.04)" font-size="25.5" text-anchor="end"><tspan>10</tspan><tspan dy="-9.6" font-size="16.7">-8</tspan></text>
<text transform="translate(778 163.9) scale(1 1.04)" font-size="25.5" text-anchor="end"><tspan>10</tspan><tspan dy="-9.6" font-size="16.7">-9</tspan></text>
<text transform="translate(778 222.6) scale(1 1.04)" font-size="25.5" text-anchor="end"><tspan>10</tspan><tspan dy="-9.6" font-size="16.7">-10</tspan></text>
<text transform="translate(778 281.3) scale(1 1.04)" font-size="25.5" text-anchor="end"><tspan>10</tspan><tspan dy="-9.6" font-size="16.7">-11</tspan></text>
<text transform="translate(778 340) scale(1 1.04)" font-size="25.5" text-anchor="end"><tspan>10</tspan><tspan dy="-9.6" font-size="16.7">-12</tspan></text>
<text transform="translate(778 398.7) scale(1 1.04)" font-size="25.5" text-anchor="end"><tspan>10</tspan><tspan dy="-9.6" font-size="16.7">-13</tspan></text>
<text transform="translate(989 440) scale(1 1.04)" font-size="24.5"><tspan font-style="italic">V</tspan><tspan dy="6.1" font-size="16.1">gs</tspan><tspan dy="-6.1"> (V)</tspan></text>
<text transform="translate(714 234.5) rotate(-90) scale(1 1.04)" font-size="25.7"><tspan font-style="italic">I</tspan><tspan dy="6.4" font-size="16.9">ds</tspan><tspan dy="-6.4"> (A)</tspan></text>
<text transform="translate(666.8 32.5) scale(1 1.04)" font-size="43.3"><tspan>(b)</tspan></text>
<path d="M834.5 206.6C834.8 206.7 835.6 207.1 836.1 207C836.6 207 837.2 206.7 837.7 206.2C838.3 205.8 838.8 205.1 839.3 204.5C839.9 204 840.4 203.3 840.9 203C841.5 202.7 842 202.6 842.5 202.8C843.1 203 843.6 203.6 844.2 204.2C844.7 204.8 845.2 205.8 845.8 206.5C846.3 207.2 846.8 208 847.4 208.4C847.9 208.8 848.5 208.9 849 208.7C849.5 208.5 850.1 207.9 850.6 207.2C851.1 206.6 851.7 205.7 852.2 205C852.7 204.4 853.3 203.7 853.8 203.3C854.4 203 854.9 202.9 855.4 203.1C856 203.2 856.5 203.7 857 204.1C857.6 204.4 858.1 205 858.6 205.4C859.2 205.8 859.7 206.1 860.3 206.2C860.8 206.3 861.3 206.2 861.9 206.1C862.4 206 862.9 205.7 863.5 205.7C864 205.6 864.6 205.5 865.1 205.6C865.6 205.7 866.2 206 866.7 206.2C867.2 206.5 867.8 206.9 868.3 207.1C868.8 207.2 869.4 207.4 869.9 207.3C870.5 207.1 871 206.7 871.5 206.2C872.1 205.7 872.6 204.9 873.1 204.2C873.7 203.6 874.2 202.8 874.8 202.5C875.3 202.1 875.8 201.9 876.4 202.1C876.9 202.3 877.4 202.9 878 203.6C878.5 204.3 879 205.4 879.6 206.3C880.1 207.1 880.7 208.1 881.2 208.6C881.7 209.1 882.3 209.4 882.8 209.3C883.3 209.2 883.9 208.7 884.4 208.1C884.9 207.5 885.5 206.5 886 205.8C886.6 205.1 887.1 204.2 887.6 203.7C888.2 203.2 888.7 203 889.2 202.9C889.8 202.9 890.3 203.2 890.9 203.5C891.4 203.7 891.9 204.3 892.5 204.6C893 204.9 893.5 205.3 894.1 205.4C894.6 205.6 895.1 205.6 895.7 205.7C896.2 205.7 896.8 205.6 897.3 205.6C897.8 205.6 898.4 205.7 898.9 205.9C899.4 206.1 900 206.5 900.5 206.8C901 207.1 901.6 207.6 902.1 207.8C902.7 208 903.2 208.1 903.7 207.9C904.3 207.8 904.8 207.3 905.3 206.7C905.9 206.1 906.4 205.1 907 204.3C907.5 203.6 908 202.6 908.6 202.1C909.1 201.6 909.6 201.2 910.2 201.3C910.7 201.4 911.2 201.9 911.8 202.6C912.3 203.3 912.9 204.5 913.4 205.5C913.9 206.4 914.3 208.3 915 208.3C915.7 208.3 916.6 204.9 917.5 205.6C918.4 206.3 919.5 210.4 920.5 212.4C921.5 214.4 922.2 217.1 923.5 217.6C924.8 218.1 926.8 215.7 928 215.4C929.2 215.1 929.8 215 931 216C932.2 217 934 219.9 935.5 221.4C937 222.9 938.6 225.8 940 225.2C941.4 224.6 942.7 220.6 943.8 217.6C944.9 214.6 945.9 210 946.8 207C947.7 204 947.9 201.8 949 199.6C950.1 197.3 951.8 196 953.6 193.5C955.4 191 957.9 187.3 959.6 184.5C961.3 181.7 961.9 179.2 964 176.5C966.1 173.8 969.3 170.8 972 168C974.7 165.2 977 162.7 980 160C983 157.3 986 154.8 990 152C994 149.2 999 145.5 1004 143C1009 140.5 1014 138.9 1020 137C1026 135.1 1033.3 133.2 1040 131.5C1046.7 129.8 1053.3 128.3 1060 127C1066.7 125.7 1073.3 124.7 1080 123.8C1086.7 122.9 1093.3 122.1 1100 121.6C1106.7 121.1 1115 121.4 1120 121C1125 120.6 1127.3 120 1130 119.4C1132.7 118.8 1133.8 117.3 1136 117.2C1138.2 117.1 1140.7 118.3 1143 118.6C1145.3 118.9 1147.2 119.4 1150 119.2C1152.8 119 1156.7 117.7 1160 117.2C1163.3 116.7 1167.5 116.5 1170 116C1172.5 115.5 1173.3 114.6 1175 114.4C1176.7 114.2 1178.2 115.3 1180 115C1181.8 114.7 1184.3 113 1186 112.8C1187.7 112.6 1188.3 113.9 1190 113.6C1191.7 113.3 1194.3 111.3 1196 111C1197.7 110.7 1198.3 111.9 1200 111.6C1201.7 111.3 1204.3 109.7 1206 109.4C1207.7 109.1 1208.7 110 1210 110C1211.3 110 1212.8 109.5 1214 109.6C1215.2 109.7 1216.6 110.1 1217 110.6C1217.4 111.1 1217.3 112.1 1216.5 112.8C1215.7 113.5 1213.8 113.9 1212 114.5C1210.2 115.1 1208 115.8 1206 116.4C1204 117.1 1202 117.9 1200 118.4C1198 118.9 1195.7 119.1 1194 119.6C1192.3 120.1 1191.7 120.8 1190 121.4C1188.3 122 1185.7 122.5 1184 123C1182.3 123.5 1182 123.7 1180 124.4C1178 125.1 1174.3 126.3 1172 127C1169.7 127.7 1168 127.7 1166 128.4C1164 129.1 1162 130.1 1160 131C1158 131.9 1155.7 133.2 1154 134C1152.3 134.8 1151.5 135.6 1150 136C1148.5 136.4 1146.7 136.2 1145 136.6C1143.3 137 1141.7 137.7 1140 138.4C1138.3 139.1 1136.7 140.1 1135 141C1133.3 141.9 1131.7 142.9 1130 144C1128.3 145.1 1126.7 146.3 1125 147.5C1123.3 148.7 1121.7 149.8 1120 151C1118.3 152.2 1116.7 153.5 1115 155C1113.3 156.5 1111.5 158.7 1110 160C1108.5 161.3 1107.3 161.8 1106 163C1104.7 164.2 1103 166.5 1102 167.5C1101 168.5 1101 167.8 1100 169C1099 170.2 1097.3 172.7 1096 174.5C1094.7 176.3 1093.3 177.9 1092 180C1090.7 182.1 1089.3 184.6 1088 187C1086.7 189.4 1085.3 192 1084 194.5C1082.7 197 1081.2 199.8 1080 202C1078.8 204.2 1078 206 1077 208C1076 210 1074.8 212.4 1074 214C1073.2 215.6 1072.8 216.6 1072 217.5C1071.2 218.4 1070 219.2 1069 219.6C1068 220 1067 220.3 1066 220.2C1065 220.1 1064 219.7 1063 219C1062 218.3 1061.2 217.1 1060 216C1058.8 214.9 1057.3 213.5 1056 212.5C1054.7 211.5 1053.3 210.7 1052 210C1050.7 209.3 1049.3 208.9 1048 208.6C1046.7 208.3 1045.3 208.6 1044 208C1042.7 207.4 1041.2 205.3 1040 205C1038.8 204.7 1037.8 205.5 1037 206C1036.2 206.4 1035.9 207.3 1035.4 207.5C1034.9 207.7 1034.3 207.6 1033.8 207.2C1033.2 206.8 1032.7 205.8 1032.2 205C1031.6 204.2 1031.1 203 1030.6 202.4C1030 201.7 1029.5 201.1 1029 201C1028.4 200.8 1027.9 201.2 1027.4 201.5C1026.8 201.9 1026.3 202.8 1025.8 203.3C1025.2 203.8 1024.7 204.5 1024.1 204.7C1023.6 204.9 1023.1 204.8 1022.5 204.7C1022 204.5 1021.5 203.9 1020.9 203.6C1020.4 203.3 1019.9 202.9 1019.3 202.9C1018.8 202.9 1018.2 203.2 1017.7 203.7C1017.2 204.2 1016.6 205.2 1016.1 205.9C1015.6 206.6 1015 207.6 1014.5 208C1014 208.4 1013.4 208.6 1012.9 208.4C1012.4 208.1 1011.8 207.2 1011.3 206.3C1010.8 205.5 1010.2 204.1 1009.7 203.1C1009.1 202.2 1008.6 201.2 1008.1 200.8C1007.5 200.3 1007 200.3 1006.5 200.6C1005.9 200.9 1005.4 201.8 1004.9 202.5C1004.3 203.2 1003.8 204.2 1003.2 204.7C1002.7 205.3 1002.2 205.7 1001.6 205.8C1001.1 205.9 1000.6 205.6 1000 205.3C999.5 205 999 204.4 998.4 204.2C997.9 203.9 997.4 203.7 996.8 203.9C996.3 204 995.8 204.5 995.2 205C994.7 205.5 994.1 206.3 993.6 206.8C993.1 207.2 992.5 207.7 992 207.7C991.5 207.7 990.9 207.3 990.4 206.8C989.9 206.3 989.3 205.2 988.8 204.5C988.2 203.7 987.7 202.7 987.2 202.3C986.6 201.8 986.1 201.5 985.6 201.6C985 201.7 984.5 202.2 984 202.7C983.4 203.3 982.9 204.2 982.4 204.7C981.8 205.3 981.3 205.9 980.8 206.1C980.2 206.3 979.7 206.3 979.1 206.1C978.6 205.9 978.1 205.4 977.5 205.1C977 204.7 976.5 204.3 975.9 204.2C975.4 204 974.9 204 974.3 204.2C973.8 204.4 973.2 204.9 972.7 205.2C972.2 205.5 971.6 206 971.1 206.3C970.6 206.5 970 206.6 969.5 206.5C969 206.5 968.4 206.1 967.9 205.9C967.4 205.6 966.8 205.1 966.3 204.8C965.8 204.5 965.2 204.3 964.7 204.2C964.1 204.1 963.6 204.2 963.1 204.3C962.5 204.4 962 204.7 961.5 204.9C960.9 205.1 960.4 205.3 959.9 205.3C959.3 205.4 958.8 205.3 958.2 205.2C957.7 205.1 957.2 204.9 956.6 204.7C956.1 204.5 955.6 204.3 955 204.3C954.5 204.2 954 204.2 953.4 204.3C952.9 204.3 952.4 204.6 951.8 204.8C951.3 205 950.8 205.3 950.2 205.5C949.7 205.7 949.1 206 948.6 206.2C948.1 206.3 947.5 206.5 947 206.6C946.5 206.7 945.9 206.8 945.4 206.9C944.9 206.9 944.3 206.9 943.8 206.9C943.2 206.8 942.7 206.6 942.2 206.4C941.6 206.2 941.1 205.8 940.6 205.5C940 205.1 939.5 204.6 939 204.3C938.4 204 937.9 203.6 937.4 203.4C936.8 203.3 936.3 203.2 935.8 203.3C935.2 203.4 934.7 203.7 934.1 204C933.6 204.3 933.1 204.8 932.5 205.1C932 205.4 931.5 205.7 930.9 205.9C930.4 206.1 929.9 206.1 929.3 206.2C928.8 206.2 928.2 206.1 927.7 206.2C927.2 206.3 926.6 206.3 926.1 206.5C925.6 206.7 925 207 924.5 207.3C924 207.5 923.4 207.9 922.9 208C922.4 208.1 921.8 208.2 921.3 207.9C920.8 207.7 920.2 207.1 919.7 206.5C919.1 205.9 918.6 204.9 918.1 204.2C917.5 203.6 917 202.7 916.5 202.4C915.9 202 915.4 201.9 914.9 202.2C914.3 202.4 913.8 203.1 913.2 203.7C912.7 204.3 912.2 205.4 911.6 206C911.1 206.7 910.6 207.4 910 207.6C909.5 207.9 909 207.9 908.4 207.7C907.9 207.6 907.4 207 906.8 206.7C906.3 206.4 905.8 206 905.2 205.9C904.7 205.8 904.1 205.9 903.6 206.1C903.1 206.4 902.5 207 902 207.3C901.5 207.7 900.9 208.2 900.4 208.3C899.9 208.4 899.3 208.2 898.8 207.7C898.2 207.3 897.7 206.4 897.2 205.7C896.6 204.9 896.1 203.8 895.6 203.3C895 202.7 894.5 202.3 894 202.3C893.4 202.4 892.9 202.9 892.4 203.6C891.8 204.3 891.3 205.4 890.8 206.2C890.2 207.1 889.7 208 889.1 208.4C888.6 208.9 888.1 209 887.5 208.7C887 208.5 886.5 207.8 885.9 207.2C885.4 206.6 884.9 205.7 884.3 205.3C883.8 204.9 883.2 204.6 882.7 204.7C882.2 204.8 881.6 205.3 881.1 205.9C880.6 206.4 880 207.3 879.5 207.8C879 208.3 878.4 208.8 877.9 208.8C877.4 208.8 876.8 208.4 876.3 207.9C875.8 207.4 875.2 206.5 874.7 205.8C874.1 205.2 873.6 204.4 873.1 204.1C872.5 203.8 872 203.8 871.5 204.1C870.9 204.3 870.4 205.1 869.9 205.7C869.3 206.3 868.8 207.2 868.2 207.6C867.7 208.1 867.2 208.3 866.6 208.3C866.1 208.2 865.6 207.7 865 207.2C864.5 206.7 864 205.8 863.4 205.3C862.9 204.8 862.4 204.3 861.8 204.3C861.3 204.3 860.8 204.7 860.2 205.2C859.7 205.7 859.1 206.7 858.6 207.4C858.1 208.1 857.5 209 857 209.3C856.5 209.7 855.9 209.9 855.4 209.7C854.9 209.6 854.3 209 853.8 208.4C853.2 207.8 852.7 206.9 852.2 206.4C851.6 205.8 851.1 205.3 850.6 205.1C850 204.8 849.5 204.9 849 205.1C848.4 205.2 847.9 205.7 847.4 206C846.8 206.2 846.3 206.6 845.8 206.6C845.2 206.7 844.7 206.6 844.1 206.5C843.6 206.3 843.1 205.9 842.5 205.8C842 205.6 841.5 205.3 840.9 205.4C840.4 205.5 839.9 205.7 839.3 206.1C838.8 206.5 838.2 207.2 837.7 207.7C837.2 208.3 836.6 209 836.1 209.4C835.6 209.8 834.8 209.9 834.5 210.1" fill="none" stroke="#ee3438" stroke-width="2.8" stroke-linejoin="round" stroke-linecap="round"/>
<path d="M835 266C835.2 264.7 835.9 260.5 836.5 258C837.1 255.5 837.8 252.8 838.5 251C839.2 249.2 839.9 248.2 841 247.5C842.1 246.8 843.8 246.9 845 247C846.2 247.1 847.2 248.1 848 248C848.8 247.9 849.4 246.2 850 246.3C850.6 246.3 851.1 247.3 851.6 248.4C852.1 249.6 852.7 251.3 853.2 253.1C853.7 255 854.3 257.3 854.8 259.4C855.3 261.4 855.9 263.7 856.4 265.5C856.9 267.3 857.5 269 858 270C858.5 271.1 859.1 271.7 859.6 271.8C860.1 271.9 860.7 271.4 861.2 270.7C861.7 269.9 862.3 268.6 862.8 267.3C863.3 265.9 863.9 264.2 864.4 262.7C864.9 261.2 865.5 259.5 866 258.1C866.5 256.7 867.1 255.4 867.6 254.4C868.1 253.3 868.7 252.4 869.2 251.7C869.7 250.9 870.3 250.4 870.8 249.9C871.3 249.3 871.9 248.9 872.4 248.6C872.9 248.2 873.5 247.8 874 247.6C874.5 247.4 875.1 247.2 875.6 247.2C876.1 247.3 876.7 247.4 877.2 247.9C877.7 248.3 878.3 249 878.8 250.1C879.3 251.2 879.9 252.6 880.4 254.2C880.9 255.8 881.5 257.9 882 259.8C882.5 261.7 883.1 264 883.6 265.9C884.1 267.7 884.7 269.6 885.2 270.9C885.7 272.2 886.3 273.2 886.8 273.5C887.3 273.9 887.9 273.7 888.4 272.9C888.9 272.2 889.5 270.8 890 269.2C890.5 267.7 891.1 265.5 891.6 263.5C892.1 261.6 892.7 259.3 893.2 257.5C893.7 255.8 894.3 254.1 894.8 253C895.3 251.9 895.9 251.3 896.4 251.1C896.9 251 897.5 251.5 898 252.2C898.5 252.9 899.1 254.2 899.6 255.4C900.1 256.6 900.7 258.1 901.2 259.3C901.7 260.4 902.3 261.7 902.8 262.4C903.3 263.1 903.9 263.5 904.4 263.6C904.9 263.6 905.5 263.2 906 262.7C906.5 262.2 907.1 261.2 907.6 260.4C908.1 259.6 908.7 258.5 909.2 257.9C909.7 257.2 910.3 256.6 910.8 256.4C911.3 256.2 911.9 256.2 912.4 256.6C912.9 257 913.5 257.8 914 258.7C914.5 259.5 915.1 260.7 915.6 261.7C916.1 262.8 916.7 263.9 917.2 264.8C917.7 265.6 918.3 266.3 918.8 266.7C919.3 267.1 919.9 267.3 920.4 267.2C920.9 267.1 921.5 266.6 922 266.2C922.5 265.7 923.1 265 923.6 264.5C924.1 263.9 924.7 263.3 925.2 262.9C925.7 262.4 926.3 262.1 926.8 261.9C927.3 261.8 927.9 261.8 928.4 261.8C928.9 261.9 929.5 262.1 930 262.1C930.5 262.2 931.1 262.3 931.6 262.3C932.1 262.2 932.7 262 933.2 261.7C933.7 261.4 934.3 260.9 934.8 260.4C935.3 259.9 935.9 259.3 936.4 258.8C936.9 258.4 937.5 258 938 258C938.5 257.9 939.1 258.1 939.6 258.6C940.1 259.1 940.7 260 941.2 261.1C941.7 262.3 942.3 263.8 942.8 265.3C943.3 266.8 943.9 268.5 944.4 269.9C944.9 271.3 945.5 272.7 946 273.5C946.5 274.3 947.1 274.8 947.6 274.7C948.1 274.6 948.7 273.9 949.2 272.7C949.7 271.6 950.3 269.8 950.8 268C951.3 266.2 951.9 263.8 952.4 261.8C952.9 259.8 953.5 257.5 954 255.9C954.5 254.3 955.1 252.9 955.6 252.2C956.1 251.5 956.7 251.4 957.2 251.8C957.7 252.2 958.3 253.4 958.8 254.7C959.3 256.1 959.9 258.2 960.4 260.1C960.9 262.1 961.5 264.4 962 266.3C962.5 268.2 963.1 270.2 963.6 271.6C964.1 273.1 964.7 274.2 965.2 274.9C965.7 275.6 966.3 275.7 966.8 275.7C967.3 275.6 967.9 275.1 968.4 274.5C968.9 273.9 969.5 273 970 272.2C970.5 271.5 971.1 270.6 971.6 269.9C972.1 269.2 972.7 268.6 973.2 268.1C973.7 267.7 974.3 267.3 974.8 267C975.3 266.6 975.9 266.4 976.4 266C976.9 265.7 977.5 265.3 978 264.8C978.5 264.3 979.1 263.7 979.6 263.1C980.1 262.4 980.7 261.6 981.2 261C981.7 260.3 982.3 259.6 982.8 259.2C983.3 258.8 983.9 258.4 984.4 258.5C984.9 258.5 985.5 258.9 986 259.5C986.5 260.1 987.1 261.2 987.6 262.3C988.1 263.4 988.7 265 989.2 266.3C989.7 267.6 990.3 269.2 990.8 270.4C991.3 271.5 991.9 272.7 992.4 273.4C992.9 274.1 993.4 275.1 994 274.5C994.6 273.9 995 274.1 996 270C997 265.9 998.7 256.5 1000 250C1001.3 243.5 1002.3 237.7 1004 231C1005.7 224.3 1008 216.7 1010 210C1012 203.3 1013.7 197.3 1016 191C1018.3 184.7 1021 178 1024 172C1027 166 1030.3 160.3 1034 155C1037.7 149.7 1041.7 145.2 1046 140C1050.3 134.8 1055 129.2 1060 124C1065 118.8 1070.7 113.1 1076 108.5C1081.3 103.9 1086.3 100.2 1092 96.5C1097.7 92.8 1103.7 89.6 1110 86.5C1116.3 83.4 1123.3 80.6 1130 78C1136.7 75.4 1143.3 73.2 1150 71C1156.7 68.8 1163.3 67 1170 65C1176.7 63 1184.2 60.7 1190 59C1195.8 57.3 1201.5 55.5 1205 54.6C1208.5 53.7 1209.3 53.7 1211 53.6C1212.7 53.5 1213.9 53.7 1215 54C1216.1 54.3 1217.3 55 1217.5 55.6C1217.7 56.2 1217.6 56.3 1216 57.5C1214.4 58.7 1210.7 61 1208 62.8C1205.3 64.5 1203 66 1200 68C1197 70 1193.3 72.7 1190 75C1186.7 77.3 1183.3 79.8 1180 82C1176.7 84.2 1173.3 86 1170 88C1166.7 90 1163.3 92 1160 94C1156.7 96 1153.3 97.7 1150 100C1146.7 102.3 1143.3 105 1140 108C1136.7 111 1133.3 114 1130 118C1126.7 122 1123 127.3 1120 132C1117 136.7 1114.7 141 1112 146C1109.3 151 1106.7 157 1104 162C1101.3 167 1098.7 171.3 1096 176C1093.3 180.7 1090.7 185.2 1088 190C1085.3 194.8 1082.7 199.8 1080 205C1077.3 210.2 1074 216.8 1072 221C1070 225.2 1069.2 227.4 1068 230C1066.8 232.6 1066 235 1065 236.5C1064 238 1063.2 238.4 1062 239C1060.8 239.6 1059 239.2 1058 240C1057 240.8 1056.7 242.2 1056 243.5C1055.3 244.8 1054.8 246.6 1054 248C1053.2 249.4 1052 250.8 1051 252C1050 253.2 1049.2 254.8 1048 255C1046.8 255.2 1045.2 252.8 1044 253C1042.8 253.2 1042 255.1 1041 256C1040 256.9 1039.2 257.8 1038 258.5C1036.8 259.2 1035 258.8 1034 260C1033 261.2 1032.7 263.7 1032 266C1031.3 268.3 1030.8 271.9 1030 274C1029.2 276.1 1027.9 278.7 1027 278.5C1026.1 278.3 1025.3 274.8 1024.5 273C1023.7 271.2 1022.9 269.1 1022 268C1021.1 266.9 1020 266.5 1019 266.5C1018 266.5 1017 268.2 1016 268C1015 267.8 1014 265.8 1013 265C1012 264.2 1011 264.3 1010 263C1009 261.7 1008 258.1 1007 257C1006 255.9 1004.8 256.9 1004 256.2C1003.2 255.5 1002.9 253.6 1002.4 252.9C1001.9 252.2 1001.3 251.7 1000.8 251.8C1000.3 251.9 999.7 252.4 999.2 253.3C998.7 254.1 998.1 255.5 997.6 257C997 258.5 996.5 260.4 996 262.1C995.4 263.8 994.9 265.7 994.4 267.3C993.8 268.9 993.3 270.4 992.8 271.5C992.2 272.7 991.7 273.5 991.2 274.1C990.6 274.7 990.1 274.9 989.6 274.9C989 274.9 988.5 274.5 988 274.2C987.4 273.8 986.9 273.2 986.4 272.7C985.8 272.2 985.3 271.6 984.8 271.2C984.2 270.7 983.7 270.3 983.1 270C982.6 269.7 982.1 269.6 981.5 269.4C981 269.2 980.5 269.2 979.9 269C979.4 268.8 978.9 268.7 978.3 268.4C977.8 268 977.3 267.7 976.7 267.1C976.2 266.6 975.7 265.8 975.1 265C974.6 264.2 974.1 263.3 973.5 262.3C973 261.4 972.5 260.3 971.9 259.3C971.4 258.4 970.8 257.4 970.3 256.7C969.8 256 969.2 255.4 968.7 255C968.2 254.6 967.6 254.4 967.1 254.4C966.6 254.3 966 254.6 965.5 254.9C965 255.2 964.4 255.7 963.9 256.2C963.4 256.6 962.8 257.2 962.3 257.8C961.8 258.3 961.2 258.8 960.7 259.3C960.2 259.7 959.6 260.1 959.1 260.5C958.5 260.9 958 261.2 957.5 261.6C956.9 261.9 956.4 262.3 955.9 262.7C955.3 263.2 954.8 263.7 954.3 264.3C953.7 264.9 953.2 265.7 952.7 266.5C952.1 267.2 951.6 268.2 951.1 269C950.5 269.9 950 270.8 949.5 271.6C948.9 272.3 948.4 273 947.9 273.3C947.3 273.7 946.8 273.9 946.2 273.7C945.7 273.5 945.2 273 944.6 272.2C944.1 271.4 943.6 270.2 943 268.9C942.5 267.6 942 266 941.4 264.4C940.9 262.9 940.4 261.2 939.8 259.8C939.3 258.4 938.8 257 938.2 256C937.7 255 937.2 254.2 936.6 253.9C936.1 253.5 935.6 253.5 935 253.8C934.5 254 934 254.7 933.4 255.4C932.9 256.1 932.3 257.1 931.8 257.9C931.3 258.7 930.7 259.6 930.2 260.2C929.7 260.8 929.1 261.2 928.6 261.3C928.1 261.4 927.5 261.2 927 260.7C926.5 260.3 925.9 259.5 925.4 258.7C924.9 257.9 924.3 256.7 923.8 255.9C923.3 255 922.7 254.1 922.2 253.6C921.7 253 921.1 252.7 920.6 252.8C920 253 919.5 253.5 919 254.4C918.4 255.2 917.9 256.6 917.4 258.1C916.8 259.6 916.3 261.6 915.8 263.3C915.2 265 914.7 267 914.2 268.5C913.6 270 913.1 271.4 912.6 272.2C912 273 911.5 273.4 911 273.3C910.4 273.2 909.9 272.4 909.4 271.3C908.8 270.3 908.3 268.6 907.8 266.8C907.2 265.1 906.7 262.9 906.1 261C905.6 259.1 905.1 257 904.5 255.5C904 253.9 903.5 252.5 902.9 251.8C902.4 251 901.9 250.6 901.3 250.8C900.8 250.9 900.3 251.7 899.7 252.6C899.2 253.5 898.7 255 898.1 256.4C897.6 257.7 897.1 259.4 896.5 260.6C896 261.8 895.5 263.1 894.9 263.8C894.4 264.5 893.8 264.9 893.3 264.7C892.8 264.6 892.2 264 891.7 263.1C891.2 262.2 890.6 260.8 890.1 259.4C889.6 258 889 256.2 888.5 254.8C888 253.4 887.4 251.8 886.9 250.9C886.4 249.9 885.8 249.1 885.3 248.9C884.8 248.7 884.2 249 883.7 249.7C883.2 250.3 882.6 251.5 882.1 252.9C881.5 254.2 881 256 880.5 257.6C879.9 259.1 879.4 261 878.9 262.3C878.3 263.6 877.8 264.9 877.3 265.6C876.7 266.3 876.2 266.6 875.7 266.5C875.1 266.4 874.6 265.7 874.1 264.8C873.5 263.8 873 262.4 872.5 261C871.9 259.6 871.4 257.9 870.9 256.5C870.3 255.1 869.8 253.6 869.2 252.6C868.7 251.6 868.2 250.9 867.6 250.6C867.1 250.3 866.6 250.4 866 250.9C865.5 251.3 865 252.3 864.4 253.3C863.9 254.3 863.4 255.7 862.8 256.9C862.3 258.2 861.8 259.6 861.2 260.6C860.7 261.6 860.2 262.6 859.6 263.1C859.1 263.7 858.6 263.9 858 263.8C857.5 263.7 857 263.1 856.4 262.5C855.9 261.8 855.3 260.7 854.8 259.7C854.3 258.7 853.7 257.5 853.2 256.5C852.7 255.4 852.1 254.4 851.6 253.7C851.1 252.9 850.9 252.8 850 252C849.1 251.2 847.3 249.4 846 249C844.7 248.6 843.2 248.7 842 249.5C840.8 250.3 839.9 252.1 839 254C838.1 255.9 837.2 258.8 836.5 261C835.8 263.2 835.2 266 835 267" fill="none" stroke="#1767e3" stroke-width="2.8" stroke-linejoin="round" stroke-linecap="round"/>
<path d="M835 294C835.2 295.3 835.3 298.7 836 302C836.7 305.3 837.9 311 839 314C840.1 317 841.6 320.7 842.5 320C843.4 319.3 843.9 314.7 844.5 310C845.1 305.3 845.2 296 846 292C846.8 288 848.2 287.5 849 286C849.8 284.5 850.4 283 851 283.1C851.6 283.2 852.1 285.4 852.6 286.7C853.2 288.1 853.7 289.9 854.2 291C854.8 292.2 855.3 293.3 855.9 293.8C856.4 294.2 856.9 294.2 857.5 293.8C858 293.5 858.6 292.4 859.1 291.5C859.6 290.7 860.2 289.3 860.7 288.6C861.2 287.8 861.8 287 862.3 286.9C862.9 286.7 863.4 287 863.9 287.7C864.5 288.4 865 289.8 865.6 291.1C866.1 292.4 866.6 293.8 867.2 295.4C867.7 297.1 868.3 299.8 868.8 300.8C869.3 301.9 869.9 302.4 870.4 301.7C871 300.9 871.5 297.9 872 296.1C872.6 294.4 873.1 292.7 873.7 290.9C874.2 289.1 874.7 286.9 875.3 285.4C875.8 283.9 876.4 282.6 876.9 282C877.4 281.4 878 281.4 878.5 282C879.1 282.6 879.6 283.9 880.1 285.4C880.7 286.8 881.2 288.9 881.8 290.6C882.3 292.4 882.8 294 883.4 295.6C883.9 297.2 884.4 299.5 885 300.1C885.5 300.7 886.1 300.1 886.6 299.3C887.1 298.4 887.7 296.3 888.2 294.9C888.8 293.5 889.3 292.1 889.8 290.9C890.4 289.6 890.9 288.4 891.5 287.6C892 286.9 892.5 286.5 893.1 286.5C893.6 286.5 894.2 287.1 894.7 287.7C895.2 288.3 895.8 289.3 896.3 290.1C896.9 290.9 897.4 291.9 897.9 292.5C898.5 293.1 899 293.5 899.6 293.5C900.1 293.5 900.6 293.2 901.2 292.7C901.7 292.2 902.2 291.3 902.8 290.6C903.3 289.9 903.9 288.9 904.4 288.4C904.9 287.9 905.5 287.5 906 287.6C906.6 287.6 907.1 288 907.6 288.6C908.2 289.3 908.7 290.4 909.3 291.3C909.8 292.3 910.3 293.6 910.9 294.5C911.4 295.5 912 296.6 912.5 297C913 297.4 913.6 297.6 914.1 297.2C914.7 296.8 915.2 295.6 915.7 294.5C916.3 293.4 916.8 291.9 917.4 290.6C917.9 289.2 918.4 287.6 919 286.5C919.5 285.3 920.1 284.2 920.6 283.7C921.1 283.2 921.7 283.1 922.2 283.4C922.8 283.7 923.3 284.6 923.8 285.6C924.4 286.6 924.9 288.1 925.4 289.4C926 290.8 926.5 292.4 927.1 293.5C927.6 294.7 928.1 295.7 928.7 296.5C929.2 297.3 929.8 298.5 930.3 298.5C930.8 298.5 931.4 297.3 931.9 296.5C932.5 295.8 933 295.1 933.5 294.3C934.1 293.5 934.6 292.5 935.2 291.8C935.7 291.1 936.2 290.4 936.8 290C937.3 289.5 937.9 289.3 938.4 289.2C938.9 289.1 939.5 289.2 940 289.3C940.6 289.3 941.1 289.6 941.6 289.6C942.2 289.6 942.7 289.7 943.2 289.5C943.8 289.4 944.3 289.1 944.9 288.8C945.4 288.5 945.9 287.9 946.5 287.6C947 287.2 947.6 286.8 948.1 286.6C948.6 286.5 949.2 286.4 949.7 286.7C950.3 286.9 950.8 287.5 951.3 288.3C951.9 289.1 952.4 290.2 953 291.4C953.5 292.6 954 293.7 954.6 295.3C955.1 296.9 955.7 299.4 956.2 300.9C956.7 302.4 957.3 304 957.8 304.3C958.4 304.7 958.9 304.1 959.4 302.8C960 301.5 960.5 298.3 961.1 296.4C961.6 294.5 962.1 293.2 962.7 291.5C963.2 289.8 963.8 287.9 964.3 286.4C964.8 284.9 965.4 283.4 965.9 282.5C966.4 281.6 967 281.1 967.5 281C968.1 280.9 968.6 281.4 969.1 282.1C969.7 282.8 970.2 284 970.8 285.2C971.3 286.3 971.8 287.9 972.4 289.1C972.9 290.4 973.4 289.8 974 292.7C974.6 295.5 975.3 303.1 976 306C976.7 308.9 977.5 311.7 978 310C978.5 308.3 978.7 301 979 296C979.3 291 979.2 287.5 980 280C980.8 272.5 982.7 259.8 984 251C985.3 242.2 986.7 234.2 988 227C989.3 219.8 990.3 214.5 992 208C993.7 201.5 996 194.3 998 188C1000 181.7 1001.7 176.3 1004 170C1006.3 163.7 1009.3 155.7 1012 150C1014.7 144.3 1017 141.3 1020 136C1023 130.7 1026.7 123.6 1030 118C1033.3 112.4 1036.7 107.2 1040 102.5C1043.3 97.8 1046.7 93.8 1050 90C1053.3 86.2 1056.7 83 1060 80C1063.3 77 1066.7 74.4 1070 72C1073.3 69.6 1075 68.3 1080 65.4C1085 62.5 1093.3 57.7 1100 54.6C1106.7 51.5 1113.3 49.3 1120 47C1126.7 44.7 1133.3 42.9 1140 41C1146.7 39.1 1153.3 37.1 1160 35.4C1166.7 33.7 1173.3 32.4 1180 31C1186.7 29.6 1194.5 28.1 1200 27C1205.5 25.9 1210.1 25.1 1213 24.6C1215.9 24.1 1217.3 23.8 1217.5 24.2C1217.7 24.6 1216.9 25.3 1214 27C1211.1 28.7 1205.7 31.7 1200 34.6C1194.3 37.5 1186.7 41.1 1180 44.6C1173.3 48.1 1166.7 51.8 1160 55.6C1153.3 59.4 1146.7 63 1140 67.6C1133.3 72.2 1125 78.8 1120 83C1115 87.2 1113.3 89.1 1110 92.6C1106.7 96.1 1103.3 100 1100 104C1096.7 108 1093.3 111.5 1090 116.5C1086.7 121.5 1083.3 127.9 1080 134C1076.7 140.1 1073.3 146.8 1070 153C1066.7 159.2 1063.3 164.8 1060 171C1056.7 177.2 1053 183.8 1050 190C1047 196.2 1044.3 202.7 1042 208C1039.7 213.3 1038 217.9 1036 222C1034 226.1 1032 229.2 1030 232.5C1028 235.8 1025.7 238.8 1024 242C1022.3 245.2 1021.3 248.8 1020 251.5C1018.7 254.2 1017.7 255.8 1016 258C1014.3 260.2 1012 262.2 1010 264.5C1008 266.8 1006 269.8 1004 272C1002 274.2 999.5 276 998 278C996.5 280 996 281.1 995 284C994 286.9 992.8 294.7 992 295.7C991.2 296.7 990.9 291.6 990.4 290.2C989.9 288.8 989.3 287.7 988.8 287.3C988.3 286.9 987.7 287.2 987.2 287.9C986.7 288.5 986.1 289.9 985.6 291.1C985.1 292.4 984.5 294.1 984 295.3C983.5 296.5 982.9 297.7 982.4 298.3C981.9 298.9 981.3 299.1 980.8 298.9C980.2 298.6 979.7 297.8 979.2 296.9C978.6 296 978.1 294.5 977.6 293.5C977 292.4 976.5 291.2 976 290.5C975.4 289.9 974.9 289.4 974.4 289.5C973.8 289.6 973.3 290.3 972.8 291.1C972.2 291.9 971.7 293.3 971.2 294.5C970.6 295.7 970.1 297.3 969.6 298.3C969 299.3 968.5 300.2 968 300.6C967.4 300.9 966.9 300.9 966.4 300.4C965.8 300 965.3 298.9 964.8 297.8C964.2 296.8 963.7 295.2 963.2 294C962.6 292.8 962.1 291.4 961.6 290.5C961 289.7 960.5 289 960 288.8C959.4 288.7 958.9 289 958.4 289.4C957.8 289.9 957.3 290.9 956.8 291.7C956.2 292.5 955.7 293.6 955.1 294.3C954.6 295 954.1 295.6 953.5 295.8C953 296.1 952.5 296 951.9 295.7C951.4 295.5 950.9 294.8 950.3 294.2C949.8 293.7 949.3 292.8 948.7 292.4C948.2 292 947.7 291.6 947.1 291.6C946.6 291.7 946.1 292 945.5 292.6C945 293.2 944.5 294.3 943.9 295.2C943.4 296.1 942.9 297.4 942.3 298.1C941.8 298.9 941.3 299.7 940.7 299.8C940.2 299.9 939.7 299.7 939.1 298.9C938.6 298.2 938.1 296.8 937.5 295.3C937 293.9 936.5 291.8 935.9 290.1C935.4 288.4 934.9 286.5 934.3 285.3C933.8 284.1 933.2 283.1 932.7 283C932.2 282.8 931.6 283.4 931.1 284.4C930.6 285.5 930 287.4 929.5 289.4C929 291.3 928.4 293.6 927.9 296.2C927.4 298.7 926.8 302.2 926.3 304.6C925.8 307 925.2 309.9 924.7 310.5C924.2 311.1 923.6 309.9 923.1 307.9C922.6 306 922 301.4 921.5 298.8C921 296.1 920.4 294.1 919.9 291.9C919.4 289.7 918.8 287.3 918.3 285.7C917.8 284.2 917.2 282.9 916.7 282.4C916.2 282 915.6 282.2 915.1 282.9C914.6 283.5 914 285 913.5 286.4C913 287.9 912.4 289.9 911.9 291.4C911.4 293 910.8 294.7 910.3 295.9C909.8 297.1 909.2 297.9 908.7 298.4C908.1 298.8 907.6 298.7 907.1 298.5C906.5 298.2 906 297.5 905.5 296.9C904.9 296.3 904.4 295.5 903.9 294.9C903.3 294.3 902.8 293.8 902.3 293.5C901.7 293.2 901.2 293.1 900.7 293.1C900.1 293 899.6 293.2 899.1 293.2C898.5 293.1 898 293.2 897.5 292.9C896.9 292.6 896.4 292.2 895.9 291.5C895.3 290.9 894.8 289.9 894.3 289C893.7 288.1 893.2 286.9 892.7 286.2C892.1 285.4 891.6 284.7 891.1 284.5C890.5 284.3 890 284.5 889.5 285.2C888.9 285.9 888.4 287.1 887.9 288.6C887.3 290.1 886.8 292 886.2 294.1C885.7 296.1 885.2 298.4 884.6 300.7C884.1 303 883.6 306.7 883 307.8C882.5 309 882 309.1 881.4 307.9C880.9 306.6 880.4 302.7 879.8 300.2C879.3 297.7 878.8 295.2 878.2 292.9C877.7 290.6 877.2 288.1 876.6 286.2C876.1 284.3 875.6 282.6 875 281.7C874.5 280.8 874 280.4 873.4 280.8C872.9 281.1 872.4 282.3 871.8 283.6C871.3 284.9 870.8 287 870.2 288.7C869.7 290.5 869.2 292.6 868.6 294C868.1 295.4 867.6 296.7 867 297.3C866.5 297.8 866 297.9 865.4 297.5C864.9 297.2 864.4 296.1 863.8 295.2C863.3 294.2 862.8 292.7 862.2 291.7C861.7 290.7 861.1 289.6 860.6 289C860.1 288.5 859.5 288.2 859 288.4C858.5 288.6 857.9 289.4 857.4 290.2C856.9 291 856.3 292.3 855.8 293.2C855.3 294.2 854.7 295.3 854.2 295.8C853.7 296.4 853.1 296.7 852.6 296.5C852.1 296.2 851.8 295.2 851 294.5C850.2 293.7 848.8 291.4 848 292C847.2 292.6 846.7 295 846 298C845.3 301 844.8 307.7 844 310C843.2 312.3 842 313.7 841 312C840 310.3 838.9 303.7 838 300C837.1 296.3 835.9 291.7 835.5 290" fill="none" stroke="#404040" stroke-width="2.8" stroke-linejoin="round" stroke-linecap="round"/>
<path d="M837 327C837.2 328.2 837.2 332.4 838 334C838.8 335.6 840 336.8 842 336.5C844 336.2 847 333.8 850 332C853 330.2 857.7 326.5 860 325.5C862.3 324.5 862 324.5 864 326C866 327.5 869.3 333.4 872 334.6C874.7 335.8 877 333.9 880 333C883 332.1 886 330 890 329C894 328 900.3 326.8 904 327C907.7 327.2 909 328.7 912 330C915 331.3 918 333.8 922 334.6C926 335.4 931.7 335.6 936 335C940.3 334.4 944 331 948 331C952 331 956.3 335.2 960 335C963.7 334.8 966.7 331.7 970 330C973.3 328.3 977.3 325.3 980 325C982.7 324.7 984.3 326.2 986 328C987.7 329.8 988.7 333.7 990 336C991.3 338.3 992.6 341.7 993.6 342C994.6 342.3 995.3 341.7 996 338C996.7 334.3 997.3 327.8 998 320C998.7 312.2 999.3 300.7 1000 291C1000.7 281.3 1001 272 1002 262C1003 252 1004.7 240.2 1006 231C1007.3 221.8 1008.7 213.8 1010 207C1011.3 200.2 1012.8 194.7 1014 190C1015.2 185.3 1016.2 181.7 1017 179C1017.8 176.3 1018 175.4 1018.5 174C1019 172.6 1019.2 172.8 1020 170.5C1020.8 168.2 1022 163.2 1023 160C1024 156.8 1024.2 155.5 1026 151.5C1027.8 147.5 1031 141.5 1034 136C1037 130.5 1041 123.7 1044 118.5C1047 113.3 1049.3 108.8 1052 104.6C1054.7 100.4 1057 97.1 1060 93.5C1063 89.9 1066.7 86.2 1070 83C1073.3 79.8 1076.7 76.8 1080 74C1083.3 71.2 1086.7 68.5 1090 66C1093.3 63.5 1096.7 61.2 1100 59C1103.3 56.8 1106.7 54.9 1110 53C1113.3 51.1 1115 49.8 1120 47.4C1125 45 1133.3 41.2 1140 38.4C1146.7 35.6 1153.3 33 1160 30.4C1166.7 27.8 1173.3 25.5 1180 23C1186.7 20.5 1194.7 17.4 1200 15.4C1205.3 13.4 1208.8 12 1212 11C1215.2 10 1218.5 9.3 1219 9.6C1219.5 9.9 1216.5 11.9 1215 13C1213.5 14.1 1212.5 14.8 1210 16.4C1207.5 18 1205 19.6 1200 22.8C1195 26 1185 32.3 1180 35.4C1175 38.5 1172.7 39.8 1170 41.6C1167.3 43.4 1165.7 44.9 1164 46C1162.3 47.1 1162.3 46.7 1160 48C1157.7 49.3 1153.3 51.7 1150 53.6C1146.7 55.5 1143.3 57.4 1140 59.5C1136.7 61.6 1133.3 63.8 1130 66C1126.7 68.2 1123.3 70 1120 72.5C1116.7 75 1113.3 78.1 1110 81C1106.7 83.9 1102.7 87.7 1100 90C1097.3 92.3 1095.7 93 1094 94.6C1092.3 96.2 1091.7 97 1090 99.6C1088.3 102.2 1086 105.9 1084 110C1082 114.1 1080.3 119 1078 124C1075.7 129 1072.7 134.7 1070 140C1067.3 145.3 1064.7 150.8 1062 156C1059.3 161.2 1056.7 166 1054 171C1051.3 176 1048.3 180.8 1046 186C1043.7 191.2 1042 196.9 1040 202C1038 207.1 1036 211.8 1034 216.5C1032 221.2 1030 225.9 1028 230.5C1026 235.1 1024 239.4 1022 244C1020 248.6 1018 254 1016 258C1014 262 1012 264.9 1010 268C1008 271.1 1006.3 273.3 1004 276.6C1001.7 279.9 998.7 285.1 996 288C993.3 290.9 990.7 292.2 988 294C985.3 295.8 983 297.3 980 299C977 300.7 973.3 302.5 970 304C966.7 305.5 963.3 307 960 308C956.7 309 953.3 309.4 950 310C946.7 310.6 945 310.9 940 311.4C935 311.9 926.7 312.6 920 313C913.3 313.4 906.7 313.5 900 313.5C893.3 313.5 886.7 313.2 880 313C873.3 312.8 864.8 312.2 860 312C855.2 311.8 853.3 311.2 851 311.5C848.7 311.8 847.5 312.4 846 313.6C844.5 314.9 843.1 317.1 842 319C840.9 320.9 840.2 323.1 839.5 325C838.8 326.9 838.3 328.8 838 330.5C837.7 332.2 837.7 334.2 837.6 335" fill="none" stroke="#2aaa68" stroke-width="2.8" stroke-linejoin="round" stroke-linecap="round"/>
<path d="M834.5 331C834.8 330.3 835.1 328.8 836 327C836.9 325.2 839 320.1 840 320C841 319.9 841.4 325.3 842 326.2C842.6 327.1 843.1 325.9 843.6 325.4C844.1 324.8 844.7 323.7 845.2 322.7C845.7 321.6 846.3 320.2 846.8 319.1C847.4 317.9 847.9 316.6 848.4 315.7C849 314.8 849.5 314 850 313.6C850.6 313.1 851.1 313 851.6 313.2C852.2 313.3 852.7 313.8 853.2 314.5C853.8 315.1 854.3 316 854.8 316.9C855.4 317.7 855.9 318.7 856.5 319.5C857 320.3 857.5 321.1 858.1 321.6C858.6 322 859.1 322.3 859.7 322.4C860.2 322.5 860.7 322.3 861.3 322C861.8 321.7 862.3 321.1 862.9 320.6C863.4 320 863.9 319.3 864.5 318.8C865 318.3 865.6 317.7 866.1 317.4C866.6 317 867.2 316.8 867.7 316.7C868.2 316.6 868.8 316.8 869.3 317C869.8 317.2 870.4 317.7 870.9 318.1C871.4 318.5 872 319.1 872.5 319.5C873.1 320 873.6 320.5 874.1 320.9C874.7 321.3 875.2 321.6 875.7 321.8C876.3 322 876.8 322.1 877.3 322.1C877.9 322.1 878.4 322 878.9 321.9C879.5 321.8 880 321.6 880.5 321.4C881.1 321.2 881.6 321 882.2 320.9C882.7 320.8 883.2 320.6 883.8 320.5C884.3 320.5 884.8 320.4 885.4 320.4C885.9 320.3 886.4 320.3 887 320.2C887.5 320.2 888 320.1 888.6 320C889.1 319.9 889.6 319.8 890.2 319.6C890.7 319.5 891.3 319.2 891.8 319.1C892.3 318.9 892.9 318.7 893.4 318.6C893.9 318.5 894.5 318.4 895 318.5C895.5 318.5 896.1 318.7 896.6 318.9C897.1 319.2 897.7 319.6 898.2 320.1C898.7 320.6 899.3 321.2 899.8 321.8C900.4 322.4 900.9 323 901.4 323.6C902 324.2 902.5 324.7 903 325.1C903.6 325.5 904.1 325.8 904.6 325.8C905.2 325.9 905.7 325.8 906.2 325.6C906.8 325.3 907.3 324.8 907.8 324.3C908.4 323.8 908.9 323.1 909.5 322.5C910 321.8 910.5 321.1 911.1 320.5C911.6 320 912.1 319.4 912.7 319.1C913.2 318.7 913.7 318.5 914.3 318.4C914.8 318.3 915.3 318.4 915.9 318.6C916.4 318.8 916.9 319.2 917.5 319.5C918 319.9 918.6 320.4 919.1 320.8C919.6 321.2 920.2 321.6 920.7 321.9C921.2 322.2 921.8 322.5 922.3 322.7C922.8 322.9 923.4 322.9 923.9 323C924.4 323.2 925 323.2 925.5 323.3C926.1 323.4 926.6 323.4 927.1 323.6C927.7 323.8 928.2 324 928.7 324.3C929.3 324.6 929.8 325.1 930.3 325.4C930.9 325.8 931.4 326.3 931.9 326.7C932.5 327 933 327.4 933.5 327.6C934.1 327.7 934.6 327.8 935.2 327.6C935.7 327.3 936.2 326.9 936.8 326.3C937.3 325.6 937.8 324.7 938.4 323.8C938.9 322.8 939.4 321.5 940 320.4C940.5 319.4 941 318.1 941.6 317.2C942.1 316.3 942.6 315.5 943.2 315.1C943.7 314.7 944.3 314.5 944.8 314.8C945.3 315.1 945.9 315.9 946.4 316.9C946.9 317.9 947.5 317.8 948 321C948.5 324.1 949.1 334.5 949.5 336C949.9 337.5 950.3 334 950.6 330C950.9 326 951 320 951.5 312C952 304 952.5 292.2 953.6 282C954.7 271.8 956.6 259.5 958 251C959.4 242.5 960.7 237.3 962 231C963.3 224.7 964.3 219.1 966 213C967.7 206.9 970 200.3 972 194.6C974 188.9 976 183.7 978 178.6C980 173.5 982 168.5 984 164C986 159.5 988 155.6 990 151.6C992 147.6 993.3 144.6 996 140C998.7 135.4 1002.7 128.7 1006 124C1009.3 119.3 1012.7 116 1016 112C1019.3 108 1022.7 103.7 1026 100C1029.3 96.3 1032 93.7 1036 90C1040 86.3 1045.3 81.5 1050 78C1054.7 74.5 1059 72 1064 69C1069 66 1074 63 1080 60C1086 57 1093.3 53.7 1100 51C1106.7 48.3 1113.3 46.3 1120 44C1126.7 41.7 1133.3 39 1140 37C1146.7 35 1153.3 33.7 1160 32C1166.7 30.3 1173.3 28.5 1180 27C1186.7 25.5 1194.7 24 1200 22.8C1205.3 21.6 1209.1 20.2 1212 19.6C1214.9 19 1217.1 18.8 1217.4 19C1217.7 19.2 1216.9 19.5 1214 20.6C1211.1 21.7 1205.7 23.4 1200 25.6C1194.3 27.8 1186.7 30.9 1180 34C1173.3 37.1 1166.7 40.8 1160 44C1153.3 47.2 1146.7 50 1140 53C1133.3 56 1125 59.6 1120 62C1115 64.4 1113.3 65.6 1110 67.6C1106.7 69.6 1103.3 71.3 1100 74C1096.7 76.7 1093.3 80 1090 84C1086.7 88 1083.3 93 1080 98C1076.7 103 1073.3 108.7 1070 114C1066.7 119.3 1063.3 124.7 1060 130C1056.7 135.3 1053.3 140.7 1050 146C1046.7 151.3 1043.3 156.7 1040 162C1036.7 167.3 1032.7 173.5 1030 178C1027.3 182.5 1026.3 184 1024 189C1021.7 194 1018.3 202.2 1016 208C1013.7 213.8 1012 218.7 1010 224C1008 229.3 1005.7 235 1004 240C1002.3 245 1001.3 249 1000 254C998.7 259 997.3 264 996 270C994.7 276 993 284 992 290C991 296 990.7 301.3 990 306C989.3 310.7 988.7 315.3 988 318C987.3 320.7 986.7 322.3 986 322C985.3 321.7 984.8 317.3 984 316C983.2 314.7 982 313.2 981 314C980 314.8 979 320.7 978 321C977 321.3 976 316.5 975 316C974 315.5 973.2 316.7 972 318C970.8 319.3 969.2 324 968 324C966.8 324 966.2 320 965 318C963.8 316 962.3 314 961 312C959.7 310 958.2 305.7 957 306C955.8 306.3 954.9 310 954 314C953.1 318 952.2 326.3 951.5 330C950.8 333.7 950.6 336.3 950 336C949.4 335.7 948.6 329.4 948 327.9C947.4 326.5 946.9 327.8 946.4 327.5C945.9 327.2 945.3 326.8 944.8 326.3C944.3 325.8 943.7 325.2 943.2 324.7C942.6 324.2 942.1 323.6 941.6 323.2C941 322.8 940.5 322.4 940 322.2C939.4 322 938.9 321.9 938.4 321.9C937.8 321.9 937.3 322.1 936.8 322.4C936.2 322.7 935.7 323.2 935.2 323.7C934.6 324.1 934.1 324.7 933.5 325.2C933 325.7 932.5 326.2 931.9 326.6C931.4 326.9 930.9 327.3 930.3 327.4C929.8 327.5 929.3 327.5 928.7 327.3C928.2 327.1 927.7 326.7 927.1 326.1C926.6 325.6 926.1 324.9 925.5 324.2C925 323.5 924.4 322.6 923.9 321.8C923.4 321.1 922.8 320.2 922.3 319.6C921.8 318.9 921.2 318.3 920.7 318C920.2 317.7 919.6 317.5 919.1 317.5C918.6 317.6 918 317.9 917.5 318.3C916.9 318.8 916.4 319.5 915.9 320.3C915.3 321.1 914.8 322.1 914.3 323.1C913.7 324 913.2 325.1 912.7 326C912.1 326.9 911.6 327.8 911.1 328.4C910.5 329.1 910 329.5 909.5 329.7C908.9 329.9 908.4 329.8 907.8 329.5C907.3 329.2 906.8 328.5 906.2 327.7C905.7 326.9 905.2 325.8 904.6 324.7C904.1 323.5 903.6 322.1 903 320.9C902.5 319.7 902 318.3 901.4 317.2C900.9 316.2 900.4 315.1 899.8 314.5C899.3 313.8 898.7 313.3 898.2 313.1C897.7 313 897.1 313.1 896.6 313.6C896.1 314 895.5 314.8 895 315.7C894.5 316.6 893.9 317.9 893.4 319.1C892.9 320.3 892.3 321.7 891.8 323C891.3 324.3 890.7 325.6 890.2 326.6C889.6 327.6 889.1 328.6 888.6 329.1C888 329.7 887.5 330 887 330C886.4 329.9 885.9 329.6 885.4 329C884.8 328.4 884.3 327.4 883.8 326.3C883.2 325.2 882.7 323.8 882.2 322.5C881.6 321.2 881.1 319.7 880.5 318.4C880 317.1 879.5 315.8 878.9 314.8C878.4 313.8 877.9 313 877.3 312.5C876.8 312 876.3 311.7 875.7 311.8C875.2 311.8 874.7 312.2 874.1 312.8C873.6 313.4 873.1 314.4 872.5 315.4C872 316.3 871.4 317.6 870.9 318.7C870.4 319.9 869.8 321.1 869.3 322.2C868.8 323.2 868.2 324.2 867.7 325C867.2 325.7 866.6 326.2 866.1 326.5C865.6 326.8 865 326.7 864.5 326.5C863.9 326.2 863.4 325.7 862.9 325C862.3 324.3 861.8 323.4 861.3 322.4C860.7 321.5 860.2 320.4 859.7 319.4C859.1 318.4 858.6 317.3 858.1 316.5C857.5 315.7 857 314.9 856.5 314.4C855.9 313.9 855.4 313.6 854.8 313.5C854.3 313.4 853.8 313.6 853.2 313.8C852.7 314.1 852.2 314.7 851.6 315.3C851.1 315.9 850.6 316.6 850 317.3C849.5 318 849 318.8 848.4 319.4C847.9 320.1 847.4 320.7 846.8 321.1C846.3 321.5 845.7 321.8 845.2 321.8C844.7 321.9 844.1 321.8 843.6 321.6C843.1 321.3 842.8 320.3 842 320.4C841.2 320.5 839.9 320.7 839 322C838.1 323.3 837.2 326.3 836.5 328C835.8 329.7 834.9 331.3 834.6 332" fill="none" stroke="#ad72e2" stroke-width="2.8" stroke-linejoin="round" stroke-linecap="round"/>
<path d="M834.5 300C834.9 301 836.1 303.7 837 306C837.9 308.3 838.8 313.7 840 314C841.2 314.3 842.7 309.7 844 308C845.3 306.3 847 303.3 848 304C849 304.7 849.4 311.2 850 312.2C850.6 313.3 851.1 311.1 851.6 310.3C852.1 309.5 852.7 308.5 853.2 307.6C853.7 306.7 854.3 305.7 854.8 305C855.3 304.2 855.9 303.4 856.4 303.1C856.9 302.7 857.5 302.5 858 302.6C858.5 302.8 859.1 303.3 859.6 304C860.1 304.7 860.7 305.8 861.2 306.9C861.7 308 862.3 309.4 862.8 310.6C863.3 311.8 863.9 313.2 864.4 314.2C864.9 315.1 865.5 316 866 316.4C866.5 316.9 867.1 317 867.6 316.8C868.1 316.5 868.7 315.8 869.2 314.9C869.7 314 870.3 312.6 870.8 311.3C871.3 310 871.9 308.4 872.4 307C872.9 305.7 873.5 304.2 874 303.2C874.5 302.2 875.1 301.4 875.6 301C876.1 300.6 876.7 300.6 877.2 301C877.7 301.4 878.3 302.2 878.8 303.2C879.3 304.2 879.9 305.6 880.4 306.9C880.9 308.2 881.5 309.8 882 311.1C882.5 312.3 883.1 313.7 883.6 314.5C884.1 315.4 884.7 316.1 885.2 316.4C885.7 316.6 886.3 316.5 886.8 316.1C887.3 315.7 887.9 314.9 888.4 314C888.9 313.1 889.5 311.9 890 310.8C890.5 309.6 891.1 308.3 891.6 307.3C892.1 306.3 892.7 305.3 893.2 304.6C893.7 304 894.3 303.5 894.8 303.3C895.3 303.2 895.9 303.3 896.4 303.6C896.9 303.9 897.5 304.5 898 305.1C898.5 305.8 899.1 306.6 899.6 307.4C900.1 308.1 900.7 309 901.2 309.7C901.7 310.3 902.3 311 902.8 311.4C903.3 311.9 903.9 312.2 904.4 312.3C904.9 312.5 905.5 312.5 906 312.4C906.5 312.3 907.1 312.1 907.6 311.8C908.1 311.5 908.7 311.2 909.2 310.8C909.7 310.5 910.3 310.1 910.8 309.8C911.3 309.5 911.9 309.2 912.4 308.9C912.9 308.6 913.5 308.3 914 308.1C914.5 307.8 915.1 307.6 915.6 307.4C916.1 307.2 916.7 307 917.2 306.9C917.7 306.7 918.3 306.6 918.8 306.5C919.3 306.5 919.9 306.5 920.4 306.6C920.9 306.6 921.5 306.8 922 307.1C922.5 307.3 923.1 307.7 923.6 308.1C924.1 308.5 924.7 309 925.2 309.5C925.7 310 926.3 310.6 926.8 311C927.3 311.5 927.9 311.9 928.4 312.2C928.9 312.5 929.5 312.7 930 312.7C930.5 312.8 931.1 312.6 931.6 312.3C932.1 312 932.7 311.5 933.2 310.9C933.7 310.3 934.3 309.5 934.8 308.8C935.3 308.2 935.9 307.3 936.4 306.7C936.9 306.1 937.5 303.3 938 305.2C938.5 307.1 939.1 314.9 939.5 318C939.9 321.1 940.2 324 940.6 324C941 324 941.4 321.7 942 318C942.6 314.3 943 308.7 944 302C945 295.3 946.7 286.5 948 278C949.3 269.5 950.7 258.8 952 251C953.3 243.2 954.7 237 956 231C957.3 225 958.7 220 960 215C961.3 210 962.7 205.5 964 201C965.3 196.5 966.7 192.1 968 188C969.3 183.9 970.7 180.2 972 176.5C973.3 172.8 974.7 169.2 976 166C977.3 162.8 977.7 161.3 980 157C982.3 152.7 986.7 145.8 990 140C993.3 134.2 996.7 127.7 1000 122C1003.3 116.3 1006.7 111 1010 106C1013.3 101 1016.7 96.1 1020 92C1023.3 87.9 1026.7 84.7 1030 81.6C1033.3 78.5 1036.7 76.1 1040 73.6C1043.3 71.1 1046.7 68.8 1050 66.6C1053.3 64.4 1055 63 1060 60.6C1065 58.2 1073.3 54.7 1080 52C1086.7 49.3 1093.3 46.8 1100 44.5C1106.7 42.2 1113.3 40 1120 38C1126.7 36 1133.3 34.5 1140 32.8C1146.7 31.1 1153.3 29.5 1160 28C1166.7 26.5 1173.3 25.3 1180 24C1186.7 22.7 1194.8 21.1 1200 20C1205.2 18.9 1208.2 18.1 1211 17.6C1213.8 17.1 1216.5 16.8 1217 17C1217.5 17.2 1215.5 18.2 1214 19C1212.5 19.8 1210.3 20.4 1208 21.6C1205.7 22.8 1204.7 23.4 1200 26C1195.3 28.6 1186.7 33.3 1180 37C1173.3 40.7 1166.7 44.7 1160 48C1153.3 51.3 1145 54.4 1140 56.6C1135 58.8 1133.3 59.3 1130 61C1126.7 62.7 1123.3 64.3 1120 66.6C1116.7 68.9 1113.3 71.8 1110 75C1106.7 78.2 1103.3 81.8 1100 86C1096.7 90.2 1093.3 95 1090 100C1086.7 105 1083.3 110.7 1080 116C1076.7 121.3 1073.3 126.7 1070 132C1066.7 137.3 1063.3 142.7 1060 148C1056.7 153.3 1053.3 158.7 1050 164C1046.7 169.3 1042.7 175.7 1040 180C1037.3 184.3 1036.3 186 1034 190C1031.7 194 1028.3 199.3 1026 204C1023.7 208.7 1022 213.7 1020 218C1018 222.3 1016 226.7 1014 230C1012 233.3 1010 235.7 1008 238C1006 240.3 1003.7 241.7 1002 244C1000.3 246.3 999.7 249.3 998 251.6C996.3 253.9 993.7 255.8 992 258C990.3 260.2 989.2 262.5 988 264.6C986.8 266.7 986 269.1 985 270.4C984 271.7 983 272.5 982 272.4C981 272.3 980 270.7 979 270C978 269.3 976.9 267.3 976 268C975.1 268.7 974.3 271.3 973.5 274C972.7 276.7 971.9 281.6 971 284C970.1 286.4 969.2 287.7 968 288.4C966.8 289.1 965.2 288.6 964 288C962.8 287.4 962 286 961 285C960 284 959 281.2 958 282C957 282.8 956 287.3 955 290C954 292.7 953 296.6 952 298C951 299.4 950 298.7 949 298.4C948 298.1 947 295.4 946 296C945 296.6 944 299.7 943 302C942 304.3 940.8 308 940 310C939.2 312 938.6 313.6 938 314.2C937.4 314.8 936.9 314.3 936.4 313.9C935.9 313.5 935.3 312.7 934.8 311.8C934.3 310.8 933.7 309.5 933.2 308.3C932.7 307.1 932.1 305.7 931.6 304.6C931.1 303.6 930.5 302.6 930 302.1C929.5 301.5 928.9 301.3 928.4 301.4C927.9 301.6 927.3 302.1 926.8 302.8C926.3 303.5 925.7 304.5 925.2 305.4C924.7 306.3 924.1 307.4 923.6 308.3C923.1 309.2 922.5 310 922 310.7C921.5 311.4 920.9 311.9 920.4 312.4C919.9 312.9 919.3 313.3 918.8 313.8C918.3 314.2 917.7 314.7 917.2 315.1C916.7 315.6 916.1 316.1 915.6 316.5C915.1 316.9 914.5 317.3 914 317.4C913.5 317.5 912.9 317.5 912.4 317.1C911.9 316.8 911.3 316.1 910.8 315.2C910.3 314.3 909.7 313 909.2 311.7C908.7 310.4 908.1 308.8 907.6 307.6C907.1 306.3 906.5 304.9 906 304.1C905.5 303.2 904.9 302.6 904.4 302.4C903.9 302.3 903.3 302.5 902.8 303C902.3 303.5 901.7 304.4 901.2 305.3C900.7 306.1 900.1 307.2 899.6 307.9C899.1 308.6 898.5 309.3 898 309.7C897.5 310 896.9 310 896.4 309.9C895.9 309.8 895.3 309.4 894.8 309.1C894.3 308.8 893.7 308.3 893.2 308.2C892.7 308.1 892.1 308.1 891.6 308.5C891.1 308.9 890.5 309.6 890 310.6C889.5 311.5 888.9 312.8 888.4 313.9C887.9 315 887.3 316.4 886.8 317.3C886.3 318.1 885.7 318.9 885.2 319C884.7 319.1 884.1 318.8 883.6 318.1C883.1 317.4 882.5 316 882 314.7C881.5 313.3 880.9 311.4 880.4 309.9C879.9 308.4 879.3 306.7 878.8 305.5C878.3 304.4 877.7 303.4 877.2 302.9C876.7 302.5 876.1 302.5 875.6 302.7C875.1 303 874.5 303.8 874 304.4C873.5 305.1 872.9 306.1 872.4 306.9C871.9 307.6 871.3 308.4 870.8 308.9C870.3 309.3 869.7 309.6 869.2 309.8C868.7 310 868.1 309.9 867.6 309.9C867.1 309.9 866.5 309.8 866 309.8C865.5 309.9 864.9 310 864.4 310.3C863.9 310.5 863.3 311 862.8 311.4C862.3 311.9 861.7 312.5 861.2 312.9C860.7 313.3 860.1 313.7 859.6 313.9C859.1 314.1 858.5 314.1 858 313.9C857.5 313.7 856.9 313.2 856.4 312.8C855.9 312.3 855.3 311.6 854.8 311.1C854.3 310.6 853.7 310 853.2 309.7C852.7 309.4 852.1 309.2 851.6 309.2C851.1 309.1 850.8 310 850 309.5C849.2 309 848.2 307.6 847 306C845.8 304.4 844.2 299.7 843 300C841.8 300.3 840.6 305.3 839.6 308C838.6 310.7 837.8 316.7 837 316C836.2 315.3 835 306 834.6 304" fill="none" stroke="#c99810" stroke-width="2.8" stroke-linejoin="round" stroke-linecap="round"/>
<line x1="816" y1="29" x2="865.6" y2="29" stroke="#404040" stroke-width="2.8"/>
<text transform="translate(870.5 36.6) scale(1 1.04)" font-size="21.9"><tspan>Pure MoS</tspan><tspan dy="5.5" font-size="14.4">2</tspan></text>
<line x1="816" y1="61" x2="865.6" y2="61" stroke="#ee3438" stroke-width="2.8"/>
<text transform="translate(871.5 69) scale(1 1.04)" font-size="21.7"><tspan>AuNPs/MoS</tspan><tspan dy="5.4" font-size="14.2">2</tspan></text>
<text transform="translate(828 130) scale(1 1.04)" font-size="23.7"><tspan font-style="italic">V</tspan><tspan dy="5.9" font-size="15.5">ds</tspan><tspan dy="-5.9"> = 0.1 V</tspan></text>
<text transform="translate(1064.5 261) scale(1 1.04)" font-size="22"><tspan>AuNPs/Al</tspan><tspan dy="5.5" font-size="14.4">2</tspan><tspan dy="-5.5">O</tspan><tspan dy="5.5" font-size="14.4">3</tspan><tspan dy="-5.5">/MoS</tspan><tspan dy="5.5" font-size="14.4">2</tspan></text>
<line x1="1108" y1="286.6" x2="1158" y2="286.6" stroke="#1767e3" stroke-width="2.8"/>
<text transform="translate(1162.2 293) scale(1 1.04)" font-size="22.4"><tspan>1 nm</tspan></text>
<line x1="1108" y1="314" x2="1158" y2="314" stroke="#2aaa68" stroke-width="2.8"/>
<text transform="translate(1163.1 321) scale(1 1.04)" font-size="22"><tspan>3 nm</tspan></text>
<line x1="1108" y1="341.4" x2="1158" y2="341.4" stroke="#ad72e2" stroke-width="2.8"/>
<text transform="translate(1162.9 348.6) scale(1 1.04)" font-size="22"><tspan>5 nm</tspan></text>
<line x1="1108" y1="368.6" x2="1158" y2="368.6" stroke="#c99810" stroke-width="2.8"/>
<text transform="translate(1162.6 376) scale(1 1.04)" font-size="22.2"><tspan>7 nm</tspan></text>
</g>

<g id="pc">
<path d="M1447.4 4H1919.7" stroke="#000" stroke-width="2.6" fill="none"/>
<path d="M1447.4 384H1919.7" stroke="#000" stroke-width="2.6" fill="none"/>
<path d="M1448.7 2.7V385.3" stroke="#000" stroke-width="2.6" fill="none"/>
<path d="M1921 2.7V385.3" stroke="#ee3438" stroke-width="2.6" fill="none"/>
<path d="M1492.1 384V376.6M1540.2 384V376.6M1588.3 384V376.6M1636.5 384V376.6M1684.6 384V376.6M1732.7 384V376.6M1780.9 384V376.6M1829 384V376.6M1877.1 384V376.6" stroke="#000" stroke-width="2.4" fill="none"/>
<path d="M1448.7 60H1456.1M1448.7 118.7H1456.1M1448.7 177.4H1456.1M1448.7 236.1H1456.1M1448.7 294.8H1456.1M1448.7 353.5H1456.1" stroke="#000" stroke-width="2.4" fill="none"/>
<path d="M1448.7 376.9H1452.5M1448.7 371.2H1452.5M1448.7 366.5H1452.5M1448.7 362.6H1452.5M1448.7 359.2H1452.5M1448.7 356.2H1452.5M1448.7 335.8H1452.5M1448.7 325.5H1452.5M1448.7 318.2H1452.5M1448.7 312.5H1452.5M1448.7 307.8H1452.5M1448.7 303.9H1452.5M1448.7 300.5H1452.5M1448.7 297.5H1452.5M1448.7 277.1H1452.5M1448.7 266.8H1452.5M1448.7 259.5H1452.5M1448.7 253.8H1452.5M1448.7 249.1H1452.5M1448.7 245.2H1452.5M1448.7 241.8H1452.5M1448.7 238.8H1452.5M1448.7 218.4H1452.5M1448.7 208.1H1452.5M1448.7 200.8H1452.5M1448.7 195.1H1452.5M1448.7 190.4H1452.5M1448.7 186.5H1452.5M1448.7 183.1H1452.5M1448.7 180.1H1452.5M1448.7 159.7H1452.5M1448.7 149.4H1452.5M1448.7 142.1H1452.5M1448.7 136.4H1452.5M1448.7 131.7H1452.5M1448.7 127.8H1452.5M1448.7 124.4H1452.5M1448.7 121.4H1452.5M1448.7 101H1452.5M1448.7 90.7H1452.5M1448.7 83.4H1452.5M1448.7 77.7H1452.5M1448.7 73H1452.5M1448.7 69.1H1452.5M1448.7 65.7H1452.5M1448.7 62.7H1452.5M1448.7 42.3H1452.5M1448.7 32H1452.5M1448.7 24.7H1452.5M1448.7 19H1452.5M1448.7 14.3H1452.5M1448.7 10.4H1452.5M1448.7 7H1452.5" stroke="#000" stroke-width="2.2" fill="none"/>
<path d="M1921 43.6H1913.6M1921 100.3H1913.6M1921 157.1H1913.6M1921 213.8H1913.6M1921 270.6H1913.6M1921 327.4H1913.6M1921 384.1H1913.6" stroke="#ee3438" stroke-width="2.4" fill="none"/>
<path d="M1921 367H1917.2M1921 357H1917.2M1921 349.9H1917.2M1921 344.4H1917.2M1921 339.9H1917.2M1921 336.1H1917.2M1921 332.8H1917.2M1921 329.9H1917.2M1921 310.3H1917.2M1921 300.3H1917.2M1921 293.2H1917.2M1921 287.7H1917.2M1921 283.2H1917.2M1921 279.4H1917.2M1921 276.1H1917.2M1921 273.2H1917.2M1921 253.5H1917.2M1921 243.5H1917.2M1921 236.4H1917.2M1921 230.9H1917.2M1921 226.4H1917.2M1921 222.6H1917.2M1921 219.3H1917.2M1921 216.4H1917.2M1921 196.8H1917.2M1921 186.8H1917.2M1921 179.7H1917.2M1921 174.2H1917.2M1921 169.7H1917.2M1921 165.9H1917.2M1921 162.6H1917.2M1921 159.7H1917.2M1921 140H1917.2M1921 130H1917.2M1921 122.9H1917.2M1921 117.4H1917.2M1921 112.9H1917.2M1921 109.1H1917.2M1921 105.8H1917.2M1921 102.9H1917.2M1921 83.3H1917.2M1921 73.3H1917.2M1921 66.2H1917.2M1921 60.7H1917.2M1921 56.2H1917.2M1921 52.4H1917.2M1921 49.1H1917.2M1921 46.2H1917.2M1921 26.5H1917.2M1921 16.5H1917.2M1921 9.4H1917.2" stroke="#ee3438" stroke-width="2.2" fill="none"/>
<text transform="translate(1540.2 411.6) scale(1 1.04)" font-size="25.5" text-anchor="middle"><tspan>0</tspan></text>
<text transform="translate(1588.3 411.6) scale(1 1.04)" font-size="25.5" text-anchor="middle"><tspan>1</tspan></text>
<text transform="translate(1636.5 411.6) scale(1 1.04)" font-size="25.5" text-anchor="middle"><tspan>2</tspan></text>
<text transform="translate(1684.6 411.6) scale(1 1.04)" font-size="25.5" text-anchor="middle"><tspan>3</tspan></text>
<text transform="translate(1732.7 411.6) scale(1 1.04)" font-size="25.5" text-anchor="middle"><tspan>4</tspan></text>
<text transform="translate(1780.9 411.6) scale(1 1.04)" font-size="25.5" text-anchor="middle"><tspan>5</tspan></text>
<text transform="translate(1829 411.6) scale(1 1.04)" font-size="25.5" text-anchor="middle"><tspan>6</tspan></text>
<text transform="translate(1877.1 411.6) scale(1 1.04)" font-size="25.5" text-anchor="middle"><tspan>7</tspan></text>
<text transform="translate(1428.3 410.2) scale(1 1.04)" font-size="19.9"><tspan>Pure MoS</tspan><tspan dy="5" font-size="13.1">2</tspan></text>
<text transform="translate(1440 69.2) scale(1 1.04)" font-size="25.5" text-anchor="end"><tspan>10</tspan><tspan dy="-9.6" font-size="16.7">-7</tspan></text>
<text transform="translate(1440 127.9) scale(1 1.04)" font-size="25.5" text-anchor="end"><tspan>10</tspan><tspan dy="-9.6" font-size="16.7">-8</tspan></text>
<text transform="translate(1440 186.6) scale(1 1.04)" font-size="25.5" text-anchor="end"><tspan>10</tspan><tspan dy="-9.6" font-size="16.7">-9</tspan></text>
<text transform="translate(1440 245.3) scale(1 1.04)" font-size="25.5" text-anchor="end"><tspan>10</tspan><tspan dy="-9.6" font-size="16.7">-10</tspan></text>
<text transform="translate(1440 304) scale(1 1.04)" font-size="25.5" text-anchor="end"><tspan>10</tspan><tspan dy="-9.6" font-size="16.7">-11</tspan></text>
<text transform="translate(1440 362.7) scale(1 1.04)" font-size="25.5" text-anchor="end"><tspan>10</tspan><tspan dy="-9.6" font-size="16.7">-12</tspan></text>
<text transform="translate(1928.4 52.8) scale(1 1.04)" font-size="25.5" fill="#ee3438"><tspan>10</tspan><tspan dy="-9.6" font-size="16.7">6</tspan></text>
<text transform="translate(1928.4 109.5) scale(1 1.04)" font-size="25.5" fill="#ee3438"><tspan>10</tspan><tspan dy="-9.6" font-size="16.7">5</tspan></text>
<text transform="translate(1928.4 166.3) scale(1 1.04)" font-size="25.5" fill="#ee3438"><tspan>10</tspan><tspan dy="-9.6" font-size="16.7">4</tspan></text>
<text transform="translate(1928.4 223) scale(1 1.04)" font-size="25.5" fill="#ee3438"><tspan>10</tspan><tspan dy="-9.6" font-size="16.7">3</tspan></text>
<text transform="translate(1928.4 279.8) scale(1 1.04)" font-size="25.5" fill="#ee3438"><tspan>10</tspan><tspan dy="-9.6" font-size="16.7">2</tspan></text>
<text transform="translate(1928.4 336.6) scale(1 1.04)" font-size="25.5" fill="#ee3438"><tspan>10</tspan><tspan dy="-9.6" font-size="16.7">1</tspan></text>
<text transform="translate(1928.4 393.3) scale(1 1.04)" font-size="25.5" fill="#ee3438"><tspan>10</tspan><tspan dy="-9.6" font-size="16.7">0</tspan></text>
<text transform="translate(1533.7 440) scale(1 1.04)" font-size="25.2"><tspan>Thickness of Al</tspan><tspan dy="6.3" font-size="16.5">2</tspan><tspan dy="-6.3">O</tspan><tspan dy="6.3" font-size="16.5">3</tspan><tspan dy="-6.3"> film (nm)</tspan></text>
<text transform="translate(1382 230.5) rotate(-90) scale(1 1.04)" font-size="25.9"><tspan font-style="italic">I</tspan><tspan dy="6.5" font-size="17">d</tspan><tspan dy="-6.5"> (A)</tspan></text>
<text transform="translate(1990 225.5) rotate(-90) scale(1 1.04)" font-size="25.7" fill="#ee3438"><tspan font-style="italic">I</tspan><tspan dy="6.4" font-size="16.8">on</tspan><tspan dy="-6.4">/</tspan><tspan font-style="italic">I</tspan><tspan dy="6.4" font-size="16.8">off</tspan></text>
<text transform="translate(1328.9 32.5) scale(1 1.04)" font-size="41.9"><tspan>(c)</tspan></text>
<path d="M1494.5 319.1L1537.8 230.9M1543.7 230.3L1584.9 281.1M1592.8 288.5L1680.1 349.5M1690.1 352L1775.4 343M1786.3 341.9L1871.6 334.1" stroke="#404040" stroke-width="2.8" fill="none"/>
<circle cx="1492.1" cy="324" r="5.5" fill="#fff" stroke="#424242" stroke-width="1.1"/>
<path d="M1486.1 324A6 6 0 0 1 1498.1 324Z" fill="#424242"/>
<circle cx="1540.2" cy="226" r="5.5" fill="#fff" stroke="#424242" stroke-width="1.1"/>
<path d="M1534.2 226A6 6 0 0 1 1546.2 226Z" fill="#424242"/>
<circle cx="1588.3" cy="285.4" r="5.5" fill="#fff" stroke="#424242" stroke-width="1.1"/>
<path d="M1582.3 285.4A6 6 0 0 1 1594.3 285.4Z" fill="#424242"/>
<circle cx="1684.6" cy="352.6" r="5.5" fill="#fff" stroke="#424242" stroke-width="1.1"/>
<path d="M1678.6 352.6A6 6 0 0 1 1690.6 352.6Z" fill="#424242"/>
<circle cx="1780.9" cy="342.4" r="5.5" fill="#fff" stroke="#424242" stroke-width="1.1"/>
<path d="M1774.9 342.4A6 6 0 0 1 1786.9 342.4Z" fill="#424242"/>
<circle cx="1877.1" cy="333.6" r="5.5" fill="#fff" stroke="#424242" stroke-width="1.1"/>
<path d="M1871.1 333.6A6 6 0 0 1 1883.1 333.6Z" fill="#424242"/>
<path d="M1494.8 52.8L1537.5 129.2M1543.8 129.9L1584.7 83.1M1593.3 76.7L1679.6 35.9M1690.1 33.9L1775.4 39.3M1786.3 39.7L1871.6 40.5" stroke="#404040" stroke-width="2.8" fill="none"/>
<g fill="url(#sk)"><circle cx="1492.1" cy="48" r="6.2"/><circle cx="1540.2" cy="134" r="6.2"/><circle cx="1588.3" cy="79" r="6.2"/><circle cx="1684.6" cy="33.6" r="6.2"/><circle cx="1780.9" cy="39.6" r="6.2"/><circle cx="1877.1" cy="40.6" r="6.2"/></g>
<path d="M1494.4 125.7L1537.9 286.3M1543.8 286.7L1584.7 192.7M1594.3 177.7L1678.6 82.1M1693.5 76.9L1772 89.9M1789.8 92.3L1868.2 99.7" stroke="#ee3438" stroke-width="2.8" fill="none"/>
<g fill="url(#sr)"><circle cx="1492.1" cy="117" r="6.2"/><circle cx="1540.2" cy="295" r="6.2"/><circle cx="1588.3" cy="184.4" r="6.2"/><circle cx="1684.6" cy="75.4" r="6.2"/><circle cx="1780.9" cy="91.4" r="6.2"/><circle cx="1877.1" cy="100.6" r="6.2"/></g>
<line x1="1714" y1="177.4" x2="1767.6" y2="177.4" stroke="#404040" stroke-width="2.8"/>
<g fill="url(#sk)"><circle cx="1740.6" cy="177.4" r="6.2"/></g>
<text transform="translate(1773.6 186) scale(1 1.04)" font-size="23.5"><tspan font-style="italic">I</tspan><tspan dy="5.9" font-size="15.4">on</tspan></text>
<line x1="1714" y1="212.2" x2="1767.6" y2="212.2" stroke="#404040" stroke-width="2.8"/>
<circle cx="1740.6" cy="212.2" r="5.5" fill="#fff" stroke="#424242" stroke-width="1.1"/>
<path d="M1734.6 212.2A6 6 0 0 1 1746.6 212.2Z" fill="#424242"/>
<text transform="translate(1773.6 220.4) scale(1 1.04)" font-size="23.7"><tspan font-style="italic">I</tspan><tspan dy="5.9" font-size="15.5">off</tspan></text>
<path d="M1714 244.6L1731.6 244.6M1749.6 244.6L1767.6 244.6" stroke="#ee3438" stroke-width="2.8" fill="none"/>
<g fill="url(#sr)"><circle cx="1740.6" cy="244.6" r="6.2"/></g>
<text transform="translate(1773.6 253) scale(1 1.04)" font-size="23.6"><tspan font-style="italic">I</tspan><tspan dy="5.9" font-size="15.5">on</tspan><tspan dy="-5.9">/</tspan><tspan font-style="italic">I</tspan><tspan dy="5.9" font-size="15.5">off</tspan></text>
</g>

<g id="pd">
<clipPath id="cd"><rect x="96" y="482.4" width="470" height="377.2"/></clipPath>
<path d="M96 795.3H391" stroke="#808080" stroke-width="2.2" stroke-dasharray="14 14" fill="none"/>
<g clip-path="url(#cd)">
<polyline points="175.4,590.2 191.4,583.6 218.6,554.6 229,622.6 241,702.6 246,724 248.6,745.4 302,753 336,707.6 361.4,652 379,602.4 395.4,585.4 412,567.4 438,500 449.5,470" fill="none" stroke="#404040" stroke-width="2.8" stroke-linejoin="round" stroke-linecap="round"/>
<g fill="url(#sk)"><circle cx="175.4" cy="590.2" r="4.7"/><circle cx="191.4" cy="583.6" r="4.7"/><circle cx="218.6" cy="554.6" r="4.7"/><circle cx="229" cy="622.6" r="4.7"/><circle cx="241" cy="702.6" r="4.7"/><circle cx="246" cy="724" r="4.7"/><circle cx="248.6" cy="745.4" r="4.7"/><circle cx="302" cy="753" r="4.7"/><circle cx="336" cy="707.6" r="4.7"/><circle cx="361.4" cy="652" r="4.7"/><circle cx="379" cy="602.4" r="4.7"/><circle cx="395.4" cy="585.4" r="4.7"/><circle cx="412" cy="567.4" r="4.7"/><circle cx="438" cy="500" r="4.7"/></g>
<polyline points="335.4,470 337,521.6 339,629.4 340.4,641 347.6,579.4 348.5,662 359.6,589.4 371.4,535.6 376,470" fill="none" stroke="#ee3438" stroke-width="2.8" stroke-linejoin="round" stroke-linecap="round"/>
<g fill="url(#sr)"><circle cx="337" cy="521.6" r="4.7"/><circle cx="339" cy="629.4" r="4.7"/><circle cx="340.4" cy="641" r="4.7"/><circle cx="347.6" cy="579.4" r="4.7"/><circle cx="348.5" cy="662" r="4.7"/><circle cx="359.6" cy="589.4" r="4.7"/><circle cx="371.4" cy="535.6" r="4.7"/></g>
<polyline points="247.4,681 265.6,750.6 268.6,706.6 274.6,730 279.4,703.4 285.4,734.6 287.6,766.6 297.4,756.4 299.4,742.4 309,679.6 326,663.6 346.8,656 365.4,571.6 378.4,534.6 393,537 408.5,470" fill="none" stroke="#1767e3" stroke-width="2.8" stroke-linejoin="round" stroke-linecap="round"/>
<g fill="url(#sb)"><circle cx="247.4" cy="681" r="4.7"/><circle cx="265.6" cy="750.6" r="4.7"/><circle cx="268.6" cy="706.6" r="4.7"/><circle cx="274.6" cy="730" r="4.7"/><circle cx="279.4" cy="703.4" r="4.7"/><circle cx="285.4" cy="734.6" r="4.7"/><circle cx="287.6" cy="766.6" r="4.7"/><circle cx="297.4" cy="756.4" r="4.7"/><circle cx="299.4" cy="742.4" r="4.7"/><circle cx="309" cy="679.6" r="4.7"/><circle cx="326" cy="663.6" r="4.7"/><circle cx="346.8" cy="656" r="4.7"/><circle cx="365.4" cy="571.6" r="4.7"/><circle cx="378.4" cy="534.6" r="4.7"/><circle cx="393" cy="537" r="4.7"/></g>
<polyline points="147.6,533 163.4,590.6 167.2,612 168.6,630 177.4,742 183.4,763 188,783 191,790.4 205,832.4 230,817.6 260,817 269.6,812 294,807 303.6,801 322.6,787 332,765 342.4,742 352,711.6 371.4,701.4 381,670.4 400,634.4 415.4,636 431,583.6 439,561 446,499.4 466,544 472.4,566.6 478.2,470" fill="none" stroke="#2aaa68" stroke-width="2.8" stroke-linejoin="round" stroke-linecap="round"/>
<g fill="url(#sg)"><circle cx="147.6" cy="533" r="4.7"/><circle cx="163.4" cy="590.6" r="4.7"/><circle cx="167.2" cy="612" r="4.7"/><circle cx="168.6" cy="630" r="4.7"/><circle cx="177.4" cy="742" r="4.7"/><circle cx="183.4" cy="763" r="4.7"/><circle cx="188" cy="783" r="4.7"/><circle cx="191" cy="790.4" r="4.7"/><circle cx="205" cy="832.4" r="4.7"/><circle cx="230" cy="817.6" r="4.7"/><circle cx="260" cy="817" r="4.7"/><circle cx="269.6" cy="812" r="4.7"/><circle cx="294" cy="807" r="4.7"/><circle cx="303.6" cy="801" r="4.7"/><circle cx="322.6" cy="787" r="4.7"/><circle cx="332" cy="765" r="4.7"/><circle cx="342.4" cy="742" r="4.7"/><circle cx="352" cy="711.6" r="4.7"/><circle cx="371.4" cy="701.4" r="4.7"/><circle cx="381" cy="670.4" r="4.7"/><circle cx="400" cy="634.4" r="4.7"/><circle cx="415.4" cy="636" r="4.7"/><circle cx="431" cy="583.6" r="4.7"/><circle cx="439" cy="561" r="4.7"/><circle cx="446" cy="499.4" r="4.7"/><circle cx="466" cy="544" r="4.7"/><circle cx="472.4" cy="566.6" r="4.7"/></g>
<polyline points="156,688.6 163.4,697.4 168,725.4 168,729.6 171,759 179.4,687.4 180,701.4 189.4,741 193.6,747.4 193.6,769 194.6,818 200.6,812 230.4,806 244,801 278.6,796.6 295.6,789 314.4,778 343.4,700.6 365.6,665.6 384.6,590.6 399.4,544.6 413,511 425.5,470" fill="none" stroke="#ad72e2" stroke-width="2.8" stroke-linejoin="round" stroke-linecap="round"/>
<g fill="url(#sp)"><circle cx="156" cy="688.6" r="4.7"/><circle cx="163.4" cy="697.4" r="4.7"/><circle cx="168" cy="725.4" r="4.7"/><circle cx="168" cy="729.6" r="4.7"/><circle cx="171" cy="759" r="4.7"/><circle cx="179.4" cy="687.4" r="4.7"/><circle cx="180" cy="701.4" r="4.7"/><circle cx="189.4" cy="741" r="4.7"/><circle cx="193.6" cy="747.4" r="4.7"/><circle cx="193.6" cy="769" r="4.7"/><circle cx="194.6" cy="818" r="4.7"/><circle cx="200.6" cy="812" r="4.7"/><circle cx="230.4" cy="806" r="4.7"/><circle cx="244" cy="801" r="4.7"/><circle cx="278.6" cy="796.6" r="4.7"/><circle cx="295.6" cy="789" r="4.7"/><circle cx="314.4" cy="778" r="4.7"/><circle cx="343.4" cy="700.6" r="4.7"/><circle cx="365.6" cy="665.6" r="4.7"/><circle cx="384.6" cy="590.6" r="4.7"/><circle cx="399.4" cy="544.6" r="4.7"/><circle cx="413" cy="511" r="4.7"/></g>
<polyline points="180.6,514.6 199.4,581.4 207,535.6 213.6,577.4 214.6,609.4 217,771.6 217,806 219.4,800.4 265.4,791 307.6,754.6 337.4,686.4 359.8,645.6 379.4,617 396.6,591.6 412.6,564 426.6,528 439.4,504.4 453.5,470" fill="none" stroke="#c99810" stroke-width="2.8" stroke-linejoin="round" stroke-linecap="round"/>
<g fill="url(#sy)"><circle cx="180.6" cy="514.6" r="4.7"/><circle cx="199.4" cy="581.4" r="4.7"/><circle cx="207" cy="535.6" r="4.7"/><circle cx="213.6" cy="577.4" r="4.7"/><circle cx="214.6" cy="609.4" r="4.7"/><circle cx="217" cy="771.6" r="4.7"/><circle cx="217" cy="806" r="4.7"/><circle cx="219.4" cy="800.4" r="4.7"/><circle cx="265.4" cy="791" r="4.7"/><circle cx="307.6" cy="754.6" r="4.7"/><circle cx="337.4" cy="686.4" r="4.7"/><circle cx="359.8" cy="645.6" r="4.7"/><circle cx="379.4" cy="617" r="4.7"/><circle cx="396.6" cy="591.6" r="4.7"/><circle cx="412.6" cy="564" r="4.7"/><circle cx="426.6" cy="528" r="4.7"/><circle cx="439.4" cy="504.4" r="4.7"/></g>
</g>
<path d="M94.7 482.4H567.3" stroke="#000" stroke-width="2.6" fill="none"/>
<path d="M94.7 859.6H567.3" stroke="#000" stroke-width="2.6" fill="none"/>
<path d="M96 481.1V860.9" stroke="#000" stroke-width="2.6" fill="none"/>
<path d="M566 481.1V860.9" stroke="#000" stroke-width="2.6" fill="none"/>
<path d="M178.6 859.6V852.4M261.2 859.6V852.4M343.8 859.6V852.4M426.4 859.6V852.4M509 859.6V852.4" stroke="#000" stroke-width="2.4" fill="none"/>
<path d="M120.9 859.6V856M135.4 859.6V856M145.7 859.6V856M153.7 859.6V856M160.3 859.6V856M165.8 859.6V856M170.6 859.6V856M174.8 859.6V856M203.5 859.6V856M218 859.6V856M228.3 859.6V856M236.3 859.6V856M242.9 859.6V856M248.4 859.6V856M253.2 859.6V856M257.4 859.6V856M286.1 859.6V856M300.6 859.6V856M310.9 859.6V856M318.9 859.6V856M325.5 859.6V856M331 859.6V856M335.8 859.6V856M340 859.6V856M368.7 859.6V856M383.2 859.6V856M393.5 859.6V856M401.5 859.6V856M408.1 859.6V856M413.6 859.6V856M418.4 859.6V856M422.6 859.6V856M451.3 859.6V856M465.8 859.6V856M476.1 859.6V856M484.1 859.6V856M490.7 859.6V856M496.2 859.6V856M501 859.6V856M505.2 859.6V856M533.9 859.6V856M548.4 859.6V856M558.7 859.6V856" stroke="#000" stroke-width="2" fill="none"/>
<path d="M96 795.3H103.2M96 730.6H103.2M96 665.9H103.2M96 601.2H103.2M96 536.5H103.2" stroke="#000" stroke-width="2.4" fill="none"/>
<path d="M96 827.6H99.6M96 762.9H99.6M96 698.2H99.6M96 633.5H99.6M96 568.8H99.6M96 504.1H99.6" stroke="#000" stroke-width="2.4" fill="none"/>
<text transform="translate(96 891.6) scale(1 1.04)" font-size="25.5" text-anchor="middle"><tspan>10</tspan><tspan dy="-9.6" font-size="16.7">-13</tspan></text>
<text transform="translate(178.6 891.6) scale(1 1.04)" font-size="25.5" text-anchor="middle"><tspan>10</tspan><tspan dy="-9.6" font-size="16.7">-12</tspan></text>
<text transform="translate(261.2 891.6) scale(1 1.04)" font-size="25.5" text-anchor="middle"><tspan>10</tspan><tspan dy="-9.6" font-size="16.7">-11</tspan></text>
<text transform="translate(343.8 891.6) scale(1 1.04)" font-size="25.5" text-anchor="middle"><tspan>10</tspan><tspan dy="-9.6" font-size="16.7">-10</tspan></text>
<text transform="translate(426.4 891.6) scale(1 1.04)" font-size="25.5" text-anchor="middle"><tspan>10</tspan><tspan dy="-9.6" font-size="16.7">-9</tspan></text>
<text transform="translate(509 891.6) scale(1 1.04)" font-size="25.5" text-anchor="middle"><tspan>10</tspan><tspan dy="-9.6" font-size="16.7">-8</tspan></text>
<text transform="translate(87.6 867.8) scale(1 1.04)" font-size="24.7" text-anchor="end"><tspan>0</tspan></text>
<text transform="translate(87.6 803.1) scale(1 1.04)" font-size="24.7" text-anchor="end"><tspan>60</tspan></text>
<text transform="translate(87.6 738.4) scale(1 1.04)" font-size="24.7" text-anchor="end"><tspan>120</tspan></text>
<text transform="translate(87.6 673.7) scale(1 1.04)" font-size="24.7" text-anchor="end"><tspan>180</tspan></text>
<text transform="translate(87.6 609) scale(1 1.04)" font-size="24.7" text-anchor="end"><tspan>240</tspan></text>
<text transform="translate(87.6 544.2) scale(1 1.04)" font-size="24.7" text-anchor="end"><tspan>300</tspan></text>
<text transform="translate(297.6 919) scale(1 1.04)" font-size="25"><tspan font-style="italic">I</tspan><tspan dy="6.2" font-size="16.4">ds</tspan><tspan dy="-6.2"> (A)</tspan></text>
<text transform="translate(37.4 745.3) rotate(-90) scale(1 1.04)" font-size="25.2"><tspan>SS (mV/dec)</tspan></text>
<text transform="translate(0.9 495) scale(1 1.04)" font-size="41.6"><tspan>(d)</tspan></text>
<line x1="392" y1="666" x2="437.6" y2="666" stroke="#404040" stroke-width="2.8"/>
<g fill="url(#sk)"><circle cx="414.4" cy="666" r="4.9"/></g>
<text transform="translate(441.7 672.4) scale(1 1.04)" font-size="19.7"><tspan>Pure MoS</tspan><tspan dy="4.9" font-size="12.9">2</tspan></text>
<line x1="392" y1="695.4" x2="437.6" y2="695.4" stroke="#ee3438" stroke-width="2.8"/>
<g fill="url(#sr)"><circle cx="414.4" cy="695.4" r="4.9"/></g>
<text transform="translate(442.5 702) scale(1 1.04)" font-size="19.7"><tspan>AuNPs/MoS</tspan><tspan dy="4.9" font-size="12.9">2</tspan></text>
<text transform="translate(382.5 736) scale(1 1.04)" font-size="19.9"><tspan>AuNPs/Al</tspan><tspan dy="5" font-size="13">2</tspan><tspan dy="-5">O</tspan><tspan dy="5" font-size="13">3</tspan><tspan dy="-5">/MoS</tspan><tspan dy="5" font-size="13">2</tspan></text>
<line x1="421" y1="758.4" x2="467" y2="758.4" stroke="#1767e3" stroke-width="2.8"/>
<g fill="url(#sb)"><circle cx="443.6" cy="758.4" r="4.9"/></g>
<text transform="translate(470.7 765) scale(1 1.04)" font-size="20.2"><tspan>1 nm</tspan></text>
<line x1="421" y1="783.6" x2="467" y2="783.6" stroke="#2aaa68" stroke-width="2.8"/>
<g fill="url(#sg)"><circle cx="443.6" cy="783.6" r="4.9"/></g>
<text transform="translate(471.5 790) scale(1 1.04)" font-size="19.8"><tspan>3 nm</tspan></text>
<line x1="421" y1="808.4" x2="467" y2="808.4" stroke="#ad72e2" stroke-width="2.8"/>
<g fill="url(#sp)"><circle cx="443.6" cy="808.4" r="4.9"/></g>
<text transform="translate(471.4 814.6) scale(1 1.04)" font-size="19.9"><tspan>5 nm</tspan></text>
<line x1="421" y1="833" x2="467" y2="833" stroke="#c99810" stroke-width="2.8"/>
<g fill="url(#sy)"><circle cx="443.6" cy="833" r="4.9"/></g>
<text transform="translate(471.1 839.6) scale(1 1.04)" font-size="20"><tspan>7 nm</tspan></text>
</g>

<g id="pe">
<path d="M751.1 482.4H1224.1" stroke="#000" stroke-width="2.6" fill="none"/>
<path d="M751.1 862.4H1224.1" stroke="#000" stroke-width="2.6" fill="none"/>
<path d="M752.4 481.1V863.7" stroke="#000" stroke-width="2.6" fill="none"/>
<path d="M1225.4 481.1V863.7" stroke="#ee3438" stroke-width="2.6" fill="none"/>
<path d="M803.9 862.4V855M850.7 862.4V855M897.5 862.4V855M944.4 862.4V855M991.2 862.4V855M1038 862.4V855M1084.8 862.4V855M1131.7 862.4V855M1178.5 862.4V855" stroke="#000" stroke-width="2.4" fill="none"/>
<path d="M752.4 785.3H759.8M752.4 707.9H759.8M752.4 630.4H759.8M752.4 553H759.8" stroke="#000" stroke-width="2.4" fill="none"/>
<path d="M752.4 824.1H756.2M752.4 746.6H756.2M752.4 669.2H756.2M752.4 591.7H756.2M752.4 514.3H756.2" stroke="#000" stroke-width="2.4" fill="none"/>
<path d="M1225.4 802H1218M1225.4 701.9H1218M1225.4 601.7H1218M1225.4 501.6H1218" stroke="#ee3438" stroke-width="2.4" fill="none"/>
<path d="M1225.4 852.1H1221.6M1225.4 751.9H1221.6M1225.4 651.8H1221.6M1225.4 551.6H1221.6" stroke="#ee3438" stroke-width="2.4" fill="none"/>
<text transform="translate(850.7 889.8) scale(1 1.04)" font-size="25.5" text-anchor="middle"><tspan>0</tspan></text>
<text transform="translate(897.5 889.8) scale(1 1.04)" font-size="25.5" text-anchor="middle"><tspan>1</tspan></text>
<text transform="translate(944.4 889.8) scale(1 1.04)" font-size="25.5" text-anchor="middle"><tspan>2</tspan></text>
<text transform="translate(991.2 889.8) scale(1 1.04)" font-size="25.5" text-anchor="middle"><tspan>3</tspan></text>
<text transform="translate(1038 889.8) scale(1 1.04)" font-size="25.5" text-anchor="middle"><tspan>4</tspan></text>
<text transform="translate(1084.8 889.8) scale(1 1.04)" font-size="25.5" text-anchor="middle"><tspan>5</tspan></text>
<text transform="translate(1131.7 889.8) scale(1 1.04)" font-size="25.5" text-anchor="middle"><tspan>6</tspan></text>
<text transform="translate(1178.5 889.8) scale(1 1.04)" font-size="25.5" text-anchor="middle"><tspan>7</tspan></text>
<text transform="translate(742.3 886) scale(1 1.04)" font-size="20.1"><tspan>Pure MoS</tspan><tspan dy="5" font-size="13.1">2</tspan></text>
<text transform="translate(744 871) scale(1 1.04)" font-size="25" text-anchor="end"><tspan>0</tspan></text>
<text transform="translate(744 793.5) scale(1 1.04)" font-size="25" text-anchor="end"><tspan>60</tspan></text>
<text transform="translate(744 716.1) scale(1 1.04)" font-size="25" text-anchor="end"><tspan>120</tspan></text>
<text transform="translate(744 638.6) scale(1 1.04)" font-size="25" text-anchor="end"><tspan>180</tspan></text>
<text transform="translate(744 561.2) scale(1 1.04)" font-size="25" text-anchor="end"><tspan>240</tspan></text>
<text transform="translate(1232.6 811.2) scale(1 1.04)" font-size="25.5" fill="#ee3438"><tspan>0</tspan></text>
<text transform="translate(1232.6 711.1) scale(1 1.04)" font-size="25.5" fill="#ee3438"><tspan>500</tspan></text>
<text transform="translate(1232.6 610.9) scale(1 1.04)" font-size="25.5" fill="#ee3438"><tspan>1000</tspan></text>
<text transform="translate(1232.6 510.8) scale(1 1.04)" font-size="25.5" fill="#ee3438"><tspan>1500</tspan></text>
<text transform="translate(837.3 918) scale(1 1.04)" font-size="25.2"><tspan>Thickness of Al</tspan><tspan dy="6.3" font-size="16.5">2</tspan><tspan dy="-6.3">O</tspan><tspan dy="6.3" font-size="16.5">3</tspan><tspan dy="-6.3"> film (nm)</tspan></text>
<text transform="translate(698.6 751.2) rotate(-90) scale(1 1.04)" font-size="24.9"><tspan>SS (mV/dec)</tspan></text>
<text transform="translate(1303 814.7) rotate(-90) scale(1 1.04)" font-size="25.3" fill="#ee3438"><tspan>Hysteresis (mV)</tspan></text>
<text transform="translate(670.9 495) scale(1 1.04)" font-size="41.9"><tspan>(e)</tspan></text>
<path d="M800 680L831.9 552.5" stroke="#000" stroke-width="2.6" stroke-dasharray="14.5 14.2" stroke-dashoffset="0" fill="none"/>
<path d="M836 536L836.6 555.7L826.2 553.1Z" fill="#000"/>
<path d="M867 538L964.3 679" stroke="#000" stroke-width="2.6" stroke-dasharray="14.5 14.2" stroke-dashoffset="0" fill="none"/>
<path d="M974 693L958.8 680.4L967.6 674.3Z" fill="#000"/>
<path d="M1023 715L1157.8 671.6" stroke="#000" stroke-width="2.6" stroke-dasharray="14.5 14.2" stroke-dashoffset="0" fill="none"/>
<path d="M1174 666.4L1157.6 677.4L1154.3 667.1Z" fill="#000"/>
<path d="M803.9 759.4V785.4M799.3 759.4H808.5M799.3 785.4H808.5M850.7 596.6V652.4M846.1 596.6H855.3M846.1 652.4H855.3M897.5 739.4V762.4M892.9 739.4H902.1M892.9 762.4H902.1M991.2 819V839M986.6 819H995.8M986.6 839H995.8M1084.8 803.6V830M1080.2 803.6H1089.4M1080.2 830H1089.4M1178.5 781.6V812.6M1173.9 781.6H1183.1M1173.9 812.6H1183.1" stroke="#404040" stroke-width="2.1" fill="none"/>
<path d="M806.1 765.4L848.4 631.2M853.3 631L894.9 744M903.3 755.8L985.4 824.2M998.6 828L1077.4 818M1092.2 815.5L1171.2 798.9" stroke="#404040" stroke-width="2.8" fill="none"/>
<g fill="url(#sk)"><circle cx="803.9" cy="772.6" r="6.2"/><circle cx="850.7" cy="624" r="6.2"/><circle cx="897.5" cy="751" r="6.2"/><circle cx="991.2" cy="829" r="6.2"/><circle cx="1084.8" cy="817" r="6.2"/><circle cx="1178.5" cy="797.4" r="6.2"/></g>
<path d="M803.9 674V714M799.3 674H808.5M799.3 714H808.5M850.7 494.6V574.6M846.1 494.6H855.3M846.1 574.6H855.3M897.5 626V686M892.9 626H902.1M892.9 686H902.1M991.2 715V750M986.6 715H995.8M986.6 750H995.8M1084.8 708V736M1080.2 708H1089.4M1080.2 736H1089.4M1178.5 652.6V703M1173.9 652.6H1183.1M1173.9 703H1183.1" stroke="#ee3438" stroke-width="2.1" fill="none"/>
<path d="M806 687.2L848.6 541.8M853.4 541.6L894.8 649.4M903.4 661.1L985.4 727.7M998.6 731.6L1077.4 722.8M1091.6 718.8L1171.7 681.2" stroke="#ee3438" stroke-width="2.8" fill="none"/>
<g fill="url(#sr)"><circle cx="803.9" cy="694.4" r="6.2"/><circle cx="850.7" cy="534.6" r="6.2"/><circle cx="897.5" cy="656.4" r="6.2"/><circle cx="991.2" cy="732.4" r="6.2"/><circle cx="1084.8" cy="722" r="6.2"/><circle cx="1178.5" cy="678" r="6.2"/></g>
<text transform="translate(901.5 551.6) scale(1 1.04)" font-size="21.7"><tspan>Improved property induced</tspan></text>
<text transform="translate(921.6 578.6) scale(1 1.04)" font-size="21.7"><tspan>by interface passivation</tspan></text>
<text transform="translate(975.4 606) scale(1 1.04)" font-size="21.6"><tspan>and NC effect</tspan></text>
<text transform="translate(1003.5 651.6) scale(1 1.04)" font-size="21.5"><tspan>Capacitance</tspan></text>
<text transform="translate(1018.6 679) scale(1 1.04)" font-size="21.8"><tspan>mismatch</tspan></text>
<text transform="translate(994.1 793) scale(1 1.04)" font-size="21.6" fill="#ee3438"><tspan>348 mV</tspan></text>
<text transform="translate(808.3 837.2) scale(1 1.04)" font-size="21.5"><tspan>25.76 mV/dec</tspan></text>
<path d="M950 830.6L970 830.6" stroke="#404040" stroke-width="1.5" fill="none"/>
<path d="M981.5 830.6L970 833.5L970 827.7Z" fill="#404040"/>
<path d="M1012.4 770L1003.9 748.7" stroke="#ee3438" stroke-width="1.5" fill="none"/>
<path d="M999.6 738L1006.6 747.6L1001.2 749.8Z" fill="#ee3438"/>
<text transform="translate(784 840) rotate(-90) scale(1 1.04)" font-size="21.5"><tspan>Leakage path generated by AuNPs</tspan></text>
</g>

<g id="pf">
<polyline points="1477.4,785.9 1484.2,785.8 1491,785.7 1497.9,785.6 1504.7,785.5 1511.5,785.4 1518.3,785.2 1525.1,785.1 1532,785 1538.8,784.8 1545.6,784.7 1552.4,784.5 1559.2,784.3 1566.1,784.2 1572.9,784 1579.7,783.8 1586.5,783.4 1593.3,782.9 1600.2,782.5 1607,781.6 1613.8,780.5 1620.6,778.3 1627.4,774.6 1634.3,770.7 1641.1,767.3 1647.9,763.1 1654.7,759.2 1661.5,755.2 1668.4,751.6 1675.2,758.1 1682,788.9 1688.8,808.5 1695.6,817.1 1702.5,821.5 1709.3,823.8 1716.1,825.7 1722.9,827.7 1729.7,829.3 1736.6,830.7 1743.4,831.7 1750.2,832.7 1757,833.5 1763.8,834.2 1770.7,834.8 1777.5,835.3 1784.3,835.7 1791.1,836.1 1797.9,836.4 1804.8,836.7 1811.6,837 1818.4,837.2 1825.2,837.4 1832,837.5 1838.9,837.7 1845.7,837.8 1852.5,837.9 1859.3,838 1866.1,838.1 1873,838.2 1879.8,838.2 1886.6,838.3" fill="none" stroke="#404040" stroke-width="2.7" stroke-linejoin="round" stroke-linecap="round"/>
<g fill="url(#sk)"><circle cx="1477.4" cy="785.9" r="4.3"/><circle cx="1484.2" cy="785.8" r="4.3"/><circle cx="1491" cy="785.7" r="4.3"/><circle cx="1497.9" cy="785.6" r="4.3"/><circle cx="1504.7" cy="785.5" r="4.3"/><circle cx="1511.5" cy="785.4" r="4.3"/><circle cx="1518.3" cy="785.2" r="4.3"/><circle cx="1525.1" cy="785.1" r="4.3"/><circle cx="1532" cy="785" r="4.3"/><circle cx="1538.8" cy="784.8" r="4.3"/><circle cx="1545.6" cy="784.7" r="4.3"/><circle cx="1552.4" cy="784.5" r="4.3"/><circle cx="1559.2" cy="784.3" r="4.3"/><circle cx="1566.1" cy="784.2" r="4.3"/><circle cx="1572.9" cy="784" r="4.3"/><circle cx="1579.7" cy="783.8" r="4.3"/><circle cx="1586.5" cy="783.4" r="4.3"/><circle cx="1593.3" cy="782.9" r="4.3"/><circle cx="1600.2" cy="782.5" r="4.3"/><circle cx="1607" cy="781.6" r="4.3"/><circle cx="1613.8" cy="780.5" r="4.3"/><circle cx="1620.6" cy="778.3" r="4.3"/><circle cx="1627.4" cy="774.6" r="4.3"/><circle cx="1634.3" cy="770.7" r="4.3"/><circle cx="1641.1" cy="767.3" r="4.3"/><circle cx="1647.9" cy="763.1" r="4.3"/><circle cx="1654.7" cy="759.2" r="4.3"/><circle cx="1661.5" cy="755.2" r="4.3"/><circle cx="1668.4" cy="751.6" r="4.3"/><circle cx="1675.2" cy="758.1" r="4.3"/><circle cx="1682" cy="788.9" r="4.3"/><circle cx="1688.8" cy="808.5" r="4.3"/><circle cx="1695.6" cy="817.1" r="4.3"/><circle cx="1702.5" cy="821.5" r="4.3"/><circle cx="1709.3" cy="823.8" r="4.3"/><circle cx="1716.1" cy="825.7" r="4.3"/><circle cx="1722.9" cy="827.7" r="4.3"/><circle cx="1729.7" cy="829.3" r="4.3"/><circle cx="1736.6" cy="830.7" r="4.3"/><circle cx="1743.4" cy="831.7" r="4.3"/><circle cx="1750.2" cy="832.7" r="4.3"/><circle cx="1757" cy="833.5" r="4.3"/><circle cx="1763.8" cy="834.2" r="4.3"/><circle cx="1770.7" cy="834.8" r="4.3"/><circle cx="1777.5" cy="835.3" r="4.3"/><circle cx="1784.3" cy="835.7" r="4.3"/><circle cx="1791.1" cy="836.1" r="4.3"/><circle cx="1797.9" cy="836.4" r="4.3"/><circle cx="1804.8" cy="836.7" r="4.3"/><circle cx="1811.6" cy="837" r="4.3"/><circle cx="1818.4" cy="837.2" r="4.3"/><circle cx="1825.2" cy="837.4" r="4.3"/><circle cx="1832" cy="837.5" r="4.3"/><circle cx="1838.9" cy="837.7" r="4.3"/><circle cx="1845.7" cy="837.8" r="4.3"/><circle cx="1852.5" cy="837.9" r="4.3"/><circle cx="1859.3" cy="838" r="4.3"/><circle cx="1866.1" cy="838.1" r="4.3"/><circle cx="1873" cy="838.2" r="4.3"/><circle cx="1879.8" cy="838.2" r="4.3"/><circle cx="1886.6" cy="838.3" r="4.3"/></g>
<polyline points="1477.4,795.1 1484.2,795.1 1491,795 1497.9,794.9 1504.7,794.8 1511.5,794.8 1518.3,794.7 1525.1,794.6 1532,794.5 1538.8,794.4 1545.6,794.4 1552.4,794.3 1559.2,794.2 1566.1,794.1 1572.9,794 1579.7,793.8 1586.5,793.7 1593.3,793.6 1600.2,793.5 1607,793 1613.8,792.5 1620.6,792 1627.4,791.4 1634.3,790.6 1641.1,789.7 1647.9,788.7 1654.7,787.7 1661.5,786.9 1668.4,786.2 1675.2,788.1 1682,802 1688.8,813.3 1695.6,817.1 1702.5,821.5 1709.3,823.8 1716.1,825.7 1722.9,827.7 1729.7,829.3 1736.6,830.7 1743.4,831.7 1750.2,832.7 1757,833.5 1763.8,834.2 1770.7,834.8 1777.5,835.3 1784.3,835.7 1791.1,836.1 1797.9,836.4 1804.8,836.7 1811.6,837 1818.4,837.2 1825.2,837.4 1832,837.5 1838.9,837.7 1845.7,837.8 1852.5,837.9 1859.3,838 1866.1,838.1 1873,838.2 1879.8,838.2 1886.6,838.3" fill="none" stroke="#ee3438" stroke-width="2.7" stroke-linejoin="round" stroke-linecap="round"/>
<g fill="url(#sr)"><circle cx="1477.4" cy="795.1" r="4.3"/><circle cx="1484.2" cy="795.1" r="4.3"/><circle cx="1491" cy="795" r="4.3"/><circle cx="1497.9" cy="794.9" r="4.3"/><circle cx="1504.7" cy="794.8" r="4.3"/><circle cx="1511.5" cy="794.8" r="4.3"/><circle cx="1518.3" cy="794.7" r="4.3"/><circle cx="1525.1" cy="794.6" r="4.3"/><circle cx="1532" cy="794.5" r="4.3"/><circle cx="1538.8" cy="794.4" r="4.3"/><circle cx="1545.6" cy="794.4" r="4.3"/><circle cx="1552.4" cy="794.3" r="4.3"/><circle cx="1559.2" cy="794.2" r="4.3"/><circle cx="1566.1" cy="794.1" r="4.3"/><circle cx="1572.9" cy="794" r="4.3"/><circle cx="1579.7" cy="793.8" r="4.3"/><circle cx="1586.5" cy="793.7" r="4.3"/><circle cx="1593.3" cy="793.6" r="4.3"/><circle cx="1600.2" cy="793.5" r="4.3"/><circle cx="1607" cy="793" r="4.3"/><circle cx="1613.8" cy="792.5" r="4.3"/><circle cx="1620.6" cy="792" r="4.3"/><circle cx="1627.4" cy="791.4" r="4.3"/><circle cx="1634.3" cy="790.6" r="4.3"/><circle cx="1641.1" cy="789.7" r="4.3"/><circle cx="1647.9" cy="788.7" r="4.3"/><circle cx="1654.7" cy="787.7" r="4.3"/><circle cx="1661.5" cy="786.9" r="4.3"/><circle cx="1668.4" cy="786.2" r="4.3"/><circle cx="1675.2" cy="788.1" r="4.3"/><circle cx="1682" cy="802" r="4.3"/><circle cx="1688.8" cy="813.3" r="4.3"/><circle cx="1695.6" cy="817.1" r="4.3"/><circle cx="1702.5" cy="821.5" r="4.3"/><circle cx="1709.3" cy="823.8" r="4.3"/><circle cx="1716.1" cy="825.7" r="4.3"/><circle cx="1722.9" cy="827.7" r="4.3"/><circle cx="1729.7" cy="829.3" r="4.3"/><circle cx="1736.6" cy="830.7" r="4.3"/><circle cx="1743.4" cy="831.7" r="4.3"/><circle cx="1750.2" cy="832.7" r="4.3"/><circle cx="1757" cy="833.5" r="4.3"/><circle cx="1763.8" cy="834.2" r="4.3"/><circle cx="1770.7" cy="834.8" r="4.3"/><circle cx="1777.5" cy="835.3" r="4.3"/><circle cx="1784.3" cy="835.7" r="4.3"/><circle cx="1791.1" cy="836.1" r="4.3"/><circle cx="1797.9" cy="836.4" r="4.3"/><circle cx="1804.8" cy="836.7" r="4.3"/><circle cx="1811.6" cy="837" r="4.3"/><circle cx="1818.4" cy="837.2" r="4.3"/><circle cx="1825.2" cy="837.4" r="4.3"/><circle cx="1832" cy="837.5" r="4.3"/><circle cx="1838.9" cy="837.7" r="4.3"/><circle cx="1845.7" cy="837.8" r="4.3"/><circle cx="1852.5" cy="837.9" r="4.3"/><circle cx="1859.3" cy="838" r="4.3"/><circle cx="1866.1" cy="838.1" r="4.3"/><circle cx="1873" cy="838.2" r="4.3"/><circle cx="1879.8" cy="838.2" r="4.3"/><circle cx="1886.6" cy="838.3" r="4.3"/></g>
<polyline points="1477.4,764.1 1484.2,763.3 1491,762.5 1497.9,761.8 1504.7,761 1511.5,760.2 1518.3,759.5 1525.1,758.7 1532,758 1538.8,757.2 1545.6,756.5 1552.4,756 1559.2,755.5 1566.1,755 1572.9,754.6 1579.7,754.1 1586.5,753.5 1593.3,752.8 1600.2,751.7 1607,747.6 1613.8,742.6 1620.6,736.1 1627.4,728.5 1634.3,717.9 1641.1,705.5 1647.9,693.9 1654.7,682.5 1661.5,674.5 1668.4,679.5 1675.2,718.1 1682,785.5 1688.8,805.8 1695.6,814.4 1702.5,818.8 1709.3,821.1 1716.1,823 1722.9,825 1729.7,826.6 1736.6,828 1743.4,829 1750.2,830 1757,831.3 1763.8,832.1 1770.7,832.8 1777.5,833.4 1784.3,833.9 1791.1,834.4 1797.9,834.8 1804.8,835.2 1811.6,835.5 1818.4,835.8 1825.2,836.1 1832,836.4 1838.9,836.6 1845.7,836.8 1852.5,837 1859.3,837.2 1866.1,837.3 1873,837.3 1879.8,837.4 1886.6,837.5" fill="none" stroke="#1767e3" stroke-width="2.7" stroke-linejoin="round" stroke-linecap="round"/>
<g fill="url(#sb)"><circle cx="1477.4" cy="764.1" r="4.3"/><circle cx="1484.2" cy="763.3" r="4.3"/><circle cx="1491" cy="762.5" r="4.3"/><circle cx="1497.9" cy="761.8" r="4.3"/><circle cx="1504.7" cy="761" r="4.3"/><circle cx="1511.5" cy="760.2" r="4.3"/><circle cx="1518.3" cy="759.5" r="4.3"/><circle cx="1525.1" cy="758.7" r="4.3"/><circle cx="1532" cy="758" r="4.3"/><circle cx="1538.8" cy="757.2" r="4.3"/><circle cx="1545.6" cy="756.5" r="4.3"/><circle cx="1552.4" cy="756" r="4.3"/><circle cx="1559.2" cy="755.5" r="4.3"/><circle cx="1566.1" cy="755" r="4.3"/><circle cx="1572.9" cy="754.6" r="4.3"/><circle cx="1579.7" cy="754.1" r="4.3"/><circle cx="1586.5" cy="753.5" r="4.3"/><circle cx="1593.3" cy="752.8" r="4.3"/><circle cx="1600.2" cy="751.7" r="4.3"/><circle cx="1607" cy="747.6" r="4.3"/><circle cx="1613.8" cy="742.6" r="4.3"/><circle cx="1620.6" cy="736.1" r="4.3"/><circle cx="1627.4" cy="728.5" r="4.3"/><circle cx="1634.3" cy="717.9" r="4.3"/><circle cx="1641.1" cy="705.5" r="4.3"/><circle cx="1647.9" cy="693.9" r="4.3"/><circle cx="1654.7" cy="682.5" r="4.3"/><circle cx="1661.5" cy="674.5" r="4.3"/><circle cx="1668.4" cy="679.5" r="4.3"/><circle cx="1675.2" cy="718.1" r="4.3"/><circle cx="1682" cy="785.5" r="4.3"/><circle cx="1688.8" cy="805.8" r="4.3"/><circle cx="1695.6" cy="814.4" r="4.3"/><circle cx="1702.5" cy="818.8" r="4.3"/><circle cx="1709.3" cy="821.1" r="4.3"/><circle cx="1716.1" cy="823" r="4.3"/><circle cx="1722.9" cy="825" r="4.3"/><circle cx="1729.7" cy="826.6" r="4.3"/><circle cx="1736.6" cy="828" r="4.3"/><circle cx="1743.4" cy="829" r="4.3"/><circle cx="1750.2" cy="830" r="4.3"/><circle cx="1757" cy="831.3" r="4.3"/><circle cx="1763.8" cy="832.1" r="4.3"/><circle cx="1770.7" cy="832.8" r="4.3"/><circle cx="1777.5" cy="833.4" r="4.3"/><circle cx="1784.3" cy="833.9" r="4.3"/><circle cx="1791.1" cy="834.4" r="4.3"/><circle cx="1797.9" cy="834.8" r="4.3"/><circle cx="1804.8" cy="835.2" r="4.3"/><circle cx="1811.6" cy="835.5" r="4.3"/><circle cx="1818.4" cy="835.8" r="4.3"/><circle cx="1825.2" cy="836.1" r="4.3"/><circle cx="1832" cy="836.4" r="4.3"/><circle cx="1838.9" cy="836.6" r="4.3"/><circle cx="1845.7" cy="836.8" r="4.3"/><circle cx="1852.5" cy="837" r="4.3"/><circle cx="1859.3" cy="837.2" r="4.3"/><circle cx="1866.1" cy="837.3" r="4.3"/><circle cx="1873" cy="837.3" r="4.3"/><circle cx="1879.8" cy="837.4" r="4.3"/><circle cx="1886.6" cy="837.5" r="4.3"/></g>
<polyline points="1477.4,745.1 1484.2,740.9 1491,737.1 1497.9,733.3 1504.7,727.8 1511.5,722.3 1518.3,718.5 1525.1,715.6 1532,710.5 1538.8,706.3 1545.6,701.1 1552.4,698.5 1559.2,696.1 1566.1,692.5 1572.9,690.5 1579.7,684.4 1586.5,679.1 1593.3,673.9 1600.2,667.6 1607,657 1613.8,644.5 1620.6,629.9 1627.4,610.5 1634.3,589.9 1641.1,568.5 1647.9,547.5 1654.7,536.5 1661.5,551.1 1668.4,608.6 1675.2,702.5 1682,780.5 1688.8,809 1695.6,817.6 1702.5,822 1709.3,824.3 1716.1,826.2 1722.9,828.2 1729.7,829.8 1736.6,831.2 1743.4,832.2 1750.2,833.2 1757,833.9 1763.8,834.6 1770.7,835.1 1777.5,835.6 1784.3,836.1 1791.1,836.4 1797.9,836.7 1804.8,837 1811.6,837.2 1818.4,837.4 1825.2,837.6 1832,837.8 1838.9,837.9 1845.7,838 1852.5,838.1 1859.3,838.2 1866.1,838.2 1873,838.3 1879.8,838.4 1886.6,838.4" fill="none" stroke="#2aaa68" stroke-width="2.7" stroke-linejoin="round" stroke-linecap="round"/>
<g fill="url(#sg)"><circle cx="1477.4" cy="745.1" r="4.3"/><circle cx="1484.2" cy="740.9" r="4.3"/><circle cx="1491" cy="737.1" r="4.3"/><circle cx="1497.9" cy="733.3" r="4.3"/><circle cx="1504.7" cy="727.8" r="4.3"/><circle cx="1511.5" cy="722.3" r="4.3"/><circle cx="1518.3" cy="718.5" r="4.3"/><circle cx="1525.1" cy="715.6" r="4.3"/><circle cx="1532" cy="710.5" r="4.3"/><circle cx="1538.8" cy="706.3" r="4.3"/><circle cx="1545.6" cy="701.1" r="4.3"/><circle cx="1552.4" cy="698.5" r="4.3"/><circle cx="1559.2" cy="696.1" r="4.3"/><circle cx="1566.1" cy="692.5" r="4.3"/><circle cx="1572.9" cy="690.5" r="4.3"/><circle cx="1579.7" cy="684.4" r="4.3"/><circle cx="1586.5" cy="679.1" r="4.3"/><circle cx="1593.3" cy="673.9" r="4.3"/><circle cx="1600.2" cy="667.6" r="4.3"/><circle cx="1607" cy="657" r="4.3"/><circle cx="1613.8" cy="644.5" r="4.3"/><circle cx="1620.6" cy="629.9" r="4.3"/><circle cx="1627.4" cy="610.5" r="4.3"/><circle cx="1634.3" cy="589.9" r="4.3"/><circle cx="1641.1" cy="568.5" r="4.3"/><circle cx="1647.9" cy="547.5" r="4.3"/><circle cx="1654.7" cy="536.5" r="4.3"/><circle cx="1661.5" cy="551.1" r="4.3"/><circle cx="1668.4" cy="608.6" r="4.3"/><circle cx="1675.2" cy="702.5" r="4.3"/><circle cx="1682" cy="780.5" r="4.3"/><circle cx="1688.8" cy="809" r="4.3"/><circle cx="1695.6" cy="817.6" r="4.3"/><circle cx="1702.5" cy="822" r="4.3"/><circle cx="1709.3" cy="824.3" r="4.3"/><circle cx="1716.1" cy="826.2" r="4.3"/><circle cx="1722.9" cy="828.2" r="4.3"/><circle cx="1729.7" cy="829.8" r="4.3"/><circle cx="1736.6" cy="831.2" r="4.3"/><circle cx="1743.4" cy="832.2" r="4.3"/><circle cx="1750.2" cy="833.2" r="4.3"/><circle cx="1757" cy="833.9" r="4.3"/><circle cx="1763.8" cy="834.6" r="4.3"/><circle cx="1770.7" cy="835.1" r="4.3"/><circle cx="1777.5" cy="835.6" r="4.3"/><circle cx="1784.3" cy="836.1" r="4.3"/><circle cx="1791.1" cy="836.4" r="4.3"/><circle cx="1797.9" cy="836.7" r="4.3"/><circle cx="1804.8" cy="837" r="4.3"/><circle cx="1811.6" cy="837.2" r="4.3"/><circle cx="1818.4" cy="837.4" r="4.3"/><circle cx="1825.2" cy="837.6" r="4.3"/><circle cx="1832" cy="837.8" r="4.3"/><circle cx="1838.9" cy="837.9" r="4.3"/><circle cx="1845.7" cy="838" r="4.3"/><circle cx="1852.5" cy="838.1" r="4.3"/><circle cx="1859.3" cy="838.2" r="4.3"/><circle cx="1866.1" cy="838.2" r="4.3"/><circle cx="1873" cy="838.3" r="4.3"/><circle cx="1879.8" cy="838.4" r="4.3"/><circle cx="1886.6" cy="838.4" r="4.3"/></g>
<polyline points="1477.4,743.9 1484.2,740 1491,736.1 1497.9,733.5 1504.7,729.5 1511.5,725.7 1518.3,722.5 1525.1,719.1 1532,715.9 1538.8,712.9 1545.6,709.9 1552.4,707.5 1559.2,704.9 1566.1,702.5 1572.9,700.1 1579.7,697.5 1586.5,694.1 1593.3,689.5 1600.2,684.4 1607,677.5 1613.8,667.6 1620.6,653.5 1627.4,637.7 1634.3,618.5 1641.1,598.5 1647.9,580.1 1654.7,567.9 1661.5,576.6 1668.4,629.5 1675.2,719.8 1682,787.2 1688.8,809.2 1695.6,817.8 1702.5,822.2 1709.3,824.4 1716.1,826.4 1722.9,828.4 1729.7,830 1736.6,831.4 1743.4,832.4 1750.2,833.4 1757,834 1763.8,834.7 1770.7,835.3 1777.5,835.7 1784.3,836.2 1791.1,836.5 1797.9,836.8 1804.8,837.1 1811.6,837.3 1818.4,837.5 1825.2,837.7 1832,837.8 1838.9,838 1845.7,838.1 1852.5,838.1 1859.3,838.2 1866.1,838.3 1873,838.4 1879.8,838.4 1886.6,838.5" fill="none" stroke="#ad72e2" stroke-width="2.7" stroke-linejoin="round" stroke-linecap="round"/>
<g fill="url(#sp)"><circle cx="1477.4" cy="743.9" r="4.3"/><circle cx="1484.2" cy="740" r="4.3"/><circle cx="1491" cy="736.1" r="4.3"/><circle cx="1497.9" cy="733.5" r="4.3"/><circle cx="1504.7" cy="729.5" r="4.3"/><circle cx="1511.5" cy="725.7" r="4.3"/><circle cx="1518.3" cy="722.5" r="4.3"/><circle cx="1525.1" cy="719.1" r="4.3"/><circle cx="1532" cy="715.9" r="4.3"/><circle cx="1538.8" cy="712.9" r="4.3"/><circle cx="1545.6" cy="709.9" r="4.3"/><circle cx="1552.4" cy="707.5" r="4.3"/><circle cx="1559.2" cy="704.9" r="4.3"/><circle cx="1566.1" cy="702.5" r="4.3"/><circle cx="1572.9" cy="700.1" r="4.3"/><circle cx="1579.7" cy="697.5" r="4.3"/><circle cx="1586.5" cy="694.1" r="4.3"/><circle cx="1593.3" cy="689.5" r="4.3"/><circle cx="1600.2" cy="684.4" r="4.3"/><circle cx="1607" cy="677.5" r="4.3"/><circle cx="1613.8" cy="667.6" r="4.3"/><circle cx="1620.6" cy="653.5" r="4.3"/><circle cx="1627.4" cy="637.7" r="4.3"/><circle cx="1634.3" cy="618.5" r="4.3"/><circle cx="1641.1" cy="598.5" r="4.3"/><circle cx="1647.9" cy="580.1" r="4.3"/><circle cx="1654.7" cy="567.9" r="4.3"/><circle cx="1661.5" cy="576.6" r="4.3"/><circle cx="1668.4" cy="629.5" r="4.3"/><circle cx="1675.2" cy="719.8" r="4.3"/><circle cx="1682" cy="787.2" r="4.3"/><circle cx="1688.8" cy="809.2" r="4.3"/><circle cx="1695.6" cy="817.8" r="4.3"/><circle cx="1702.5" cy="822.2" r="4.3"/><circle cx="1709.3" cy="824.4" r="4.3"/><circle cx="1716.1" cy="826.4" r="4.3"/><circle cx="1722.9" cy="828.4" r="4.3"/><circle cx="1729.7" cy="830" r="4.3"/><circle cx="1736.6" cy="831.4" r="4.3"/><circle cx="1743.4" cy="832.4" r="4.3"/><circle cx="1750.2" cy="833.4" r="4.3"/><circle cx="1757" cy="834" r="4.3"/><circle cx="1763.8" cy="834.7" r="4.3"/><circle cx="1770.7" cy="835.3" r="4.3"/><circle cx="1777.5" cy="835.7" r="4.3"/><circle cx="1784.3" cy="836.2" r="4.3"/><circle cx="1791.1" cy="836.5" r="4.3"/><circle cx="1797.9" cy="836.8" r="4.3"/><circle cx="1804.8" cy="837.1" r="4.3"/><circle cx="1811.6" cy="837.3" r="4.3"/><circle cx="1818.4" cy="837.5" r="4.3"/><circle cx="1825.2" cy="837.7" r="4.3"/><circle cx="1832" cy="837.8" r="4.3"/><circle cx="1838.9" cy="838" r="4.3"/><circle cx="1845.7" cy="838.1" r="4.3"/><circle cx="1852.5" cy="838.1" r="4.3"/><circle cx="1859.3" cy="838.2" r="4.3"/><circle cx="1866.1" cy="838.3" r="4.3"/><circle cx="1873" cy="838.4" r="4.3"/><circle cx="1879.8" cy="838.4" r="4.3"/><circle cx="1886.6" cy="838.5" r="4.3"/></g>
<polyline points="1477.4,750.5 1484.2,747.6 1491,745.5 1497.9,741.9 1504.7,739.5 1511.5,736.7 1518.3,734.5 1525.1,731.6 1532,730.1 1538.8,728.5 1545.6,726.5 1552.4,724.9 1559.2,723.2 1566.1,721.5 1572.9,719.8 1579.7,717.9 1586.5,714.9 1593.3,712.2 1600.2,708 1607,702.5 1613.8,694.5 1620.6,684.1 1627.4,669.5 1634.3,652.4 1641.1,634.1 1647.9,615.1 1654.7,601.5 1661.5,602.5 1668.4,642.1 1675.2,723.5 1682,787.2 1688.8,808.5 1695.6,817.1 1702.5,821.5 1709.3,823.8 1716.1,825.7 1722.9,827.7 1729.7,829.3 1736.6,830.7 1743.4,831.7 1750.2,832.7 1757,833.5 1763.8,834.2 1770.7,834.8 1777.5,835.3 1784.3,835.7 1791.1,836.1 1797.9,836.4 1804.8,836.7 1811.6,837 1818.4,837.2 1825.2,837.4 1832,837.5 1838.9,837.7 1845.7,837.8 1852.5,837.9 1859.3,838 1866.1,838.1 1873,838.2 1879.8,838.2 1886.6,838.3" fill="none" stroke="#c99810" stroke-width="2.7" stroke-linejoin="round" stroke-linecap="round"/>
<g fill="url(#sy)"><circle cx="1477.4" cy="750.5" r="4.3"/><circle cx="1484.2" cy="747.6" r="4.3"/><circle cx="1491" cy="745.5" r="4.3"/><circle cx="1497.9" cy="741.9" r="4.3"/><circle cx="1504.7" cy="739.5" r="4.3"/><circle cx="1511.5" cy="736.7" r="4.3"/><circle cx="1518.3" cy="734.5" r="4.3"/><circle cx="1525.1" cy="731.6" r="4.3"/><circle cx="1532" cy="730.1" r="4.3"/><circle cx="1538.8" cy="728.5" r="4.3"/><circle cx="1545.6" cy="726.5" r="4.3"/><circle cx="1552.4" cy="724.9" r="4.3"/><circle cx="1559.2" cy="723.2" r="4.3"/><circle cx="1566.1" cy="721.5" r="4.3"/><circle cx="1572.9" cy="719.8" r="4.3"/><circle cx="1579.7" cy="717.9" r="4.3"/><circle cx="1586.5" cy="714.9" r="4.3"/><circle cx="1593.3" cy="712.2" r="4.3"/><circle cx="1600.2" cy="708" r="4.3"/><circle cx="1607" cy="702.5" r="4.3"/><circle cx="1613.8" cy="694.5" r="4.3"/><circle cx="1620.6" cy="684.1" r="4.3"/><circle cx="1627.4" cy="669.5" r="4.3"/><circle cx="1634.3" cy="652.4" r="4.3"/><circle cx="1641.1" cy="634.1" r="4.3"/><circle cx="1647.9" cy="615.1" r="4.3"/><circle cx="1654.7" cy="601.5" r="4.3"/><circle cx="1661.5" cy="602.5" r="4.3"/><circle cx="1668.4" cy="642.1" r="4.3"/><circle cx="1675.2" cy="723.5" r="4.3"/><circle cx="1682" cy="787.2" r="4.3"/><circle cx="1688.8" cy="808.5" r="4.3"/><circle cx="1695.6" cy="817.1" r="4.3"/><circle cx="1702.5" cy="821.5" r="4.3"/><circle cx="1709.3" cy="823.8" r="4.3"/><circle cx="1716.1" cy="825.7" r="4.3"/><circle cx="1722.9" cy="827.7" r="4.3"/><circle cx="1729.7" cy="829.3" r="4.3"/><circle cx="1736.6" cy="830.7" r="4.3"/><circle cx="1743.4" cy="831.7" r="4.3"/><circle cx="1750.2" cy="832.7" r="4.3"/><circle cx="1757" cy="833.5" r="4.3"/><circle cx="1763.8" cy="834.2" r="4.3"/><circle cx="1770.7" cy="834.8" r="4.3"/><circle cx="1777.5" cy="835.3" r="4.3"/><circle cx="1784.3" cy="835.7" r="4.3"/><circle cx="1791.1" cy="836.1" r="4.3"/><circle cx="1797.9" cy="836.4" r="4.3"/><circle cx="1804.8" cy="836.7" r="4.3"/><circle cx="1811.6" cy="837" r="4.3"/><circle cx="1818.4" cy="837.2" r="4.3"/><circle cx="1825.2" cy="837.4" r="4.3"/><circle cx="1832" cy="837.5" r="4.3"/><circle cx="1838.9" cy="837.7" r="4.3"/><circle cx="1845.7" cy="837.8" r="4.3"/><circle cx="1852.5" cy="837.9" r="4.3"/><circle cx="1859.3" cy="838" r="4.3"/><circle cx="1866.1" cy="838.1" r="4.3"/><circle cx="1873" cy="838.2" r="4.3"/><circle cx="1879.8" cy="838.2" r="4.3"/><circle cx="1886.6" cy="838.3" r="4.3"/></g>
<path d="M1442.7 482.4H1922.3" stroke="#000" stroke-width="2.6" fill="none"/>
<path d="M1442.7 865H1922.3" stroke="#000" stroke-width="2.6" fill="none"/>
<path d="M1444 481.1V866.3" stroke="#000" stroke-width="2.6" fill="none"/>
<path d="M1921 481.1V866.3" stroke="#000" stroke-width="2.6" fill="none"/>
<path d="M1477.4 865V857.6M1545.6 865V857.6M1613.8 865V857.6M1682 865V857.6M1750.2 865V857.6M1818.4 865V857.6M1886.6 865V857.6" stroke="#000" stroke-width="2.4" fill="none"/>
<path d="M1511.5 865V861.2M1579.7 865V861.2M1647.9 865V861.2M1716.1 865V861.2M1784.3 865V861.2M1852.5 865V861.2" stroke="#000" stroke-width="2.4" fill="none"/>
<path d="M1444 844.5H1451.4M1444 760.2H1451.4M1444 676H1451.4M1444 591.8H1451.4M1444 507.5H1451.4" stroke="#000" stroke-width="2.4" fill="none"/>
<path d="M1444 802.4H1447.8M1444 718.1H1447.8M1444 633.9H1447.8M1444 549.6H1447.8" stroke="#000" stroke-width="2.4" fill="none"/>
<text transform="translate(1477.4 892.8) scale(1 1.04)" font-size="25.5" text-anchor="middle"><tspan>-3</tspan></text>
<text transform="translate(1545.6 892.8) scale(1 1.04)" font-size="25.5" text-anchor="middle"><tspan>-2</tspan></text>
<text transform="translate(1613.8 892.8) scale(1 1.04)" font-size="25.5" text-anchor="middle"><tspan>-1</tspan></text>
<text transform="translate(1682 892.8) scale(1 1.04)" font-size="25.5" text-anchor="middle"><tspan>0</tspan></text>
<text transform="translate(1750.2 892.8) scale(1 1.04)" font-size="25.5" text-anchor="middle"><tspan>1</tspan></text>
<text transform="translate(1818.4 892.8) scale(1 1.04)" font-size="25.5" text-anchor="middle"><tspan>2</tspan></text>
<text transform="translate(1886.6 892.8) scale(1 1.04)" font-size="25.5" text-anchor="middle"><tspan>3</tspan></text>
<text transform="translate(1435.4 852.5) scale(1 1.04)" font-size="25.2" text-anchor="end"><tspan>0</tspan></text>
<text transform="translate(1435.4 768.2) scale(1 1.04)" font-size="25.2" text-anchor="end"><tspan>100</tspan></text>
<text transform="translate(1435.4 684) scale(1 1.04)" font-size="25.2" text-anchor="end"><tspan>200</tspan></text>
<text transform="translate(1435.4 599.8) scale(1 1.04)" font-size="25.2" text-anchor="end"><tspan>300</tspan></text>
<text transform="translate(1435.4 515.5) scale(1 1.04)" font-size="25.2" text-anchor="end"><tspan>400</tspan></text>
<text transform="translate(1589.8 921) scale(1 1.04)" font-size="25.3"><tspan>Voltage bias (V)</tspan></text>
<text transform="translate(1380 710.3) rotate(-90) scale(1 1.04)" font-size="25.8"><tspan font-style="italic">C</tspan><tspan dy="6.4" font-size="16.9">p</tspan><tspan dy="-6.4">(pF)</tspan></text>
<text transform="translate(1328.9 495) scale(1 1.04)" font-size="42.2"><tspan>(f)</tspan></text>
<text transform="translate(1496.1 571.6) scale(1 1.04)" font-size="23.7"><tspan font-style="italic">f</tspan><tspan> = 5 kHz</tspan></text>
<line x1="1723" y1="539" x2="1769.6" y2="539" stroke="#404040" stroke-width="2.7"/>
<g fill="url(#sk)"><circle cx="1746" cy="539" r="4.7"/></g>
<text transform="translate(1773.2 545.6) scale(1 1.04)" font-size="20.5"><tspan>HZO</tspan></text>
<line x1="1723" y1="564" x2="1769.6" y2="564" stroke="#ee3438" stroke-width="2.7"/>
<g fill="url(#sr)"><circle cx="1746" cy="564" r="4.7"/></g>
<text transform="translate(1773.2 570.6) scale(1 1.04)" font-size="20.2"><tspan>HZO/AuNPs</tspan></text>
<text transform="translate(1718.7 614.4) scale(1 1.04)" font-size="20.2"><tspan>HZO/AuNPs/Al</tspan><tspan dy="5" font-size="13.2">2</tspan><tspan dy="-5">O</tspan><tspan dy="5" font-size="13.2">3</tspan></text>
<line x1="1755" y1="637.5" x2="1801.6" y2="637.5" stroke="#1767e3" stroke-width="2.7"/>
<g fill="url(#sb)"><circle cx="1778" cy="637.5" r="4.7"/></g>
<text transform="translate(1805.7 644) scale(1 1.04)" font-size="20.4"><tspan>1 nm</tspan></text>
<line x1="1755" y1="662.6" x2="1801.6" y2="662.6" stroke="#2aaa68" stroke-width="2.7"/>
<g fill="url(#sg)"><circle cx="1778" cy="662.6" r="4.7"/></g>
<text transform="translate(1806.5 669) scale(1 1.04)" font-size="20"><tspan>3 nm</tspan></text>
<line x1="1755" y1="688" x2="1801.6" y2="688" stroke="#ad72e2" stroke-width="2.7"/>
<g fill="url(#sp)"><circle cx="1778" cy="688" r="4.7"/></g>
<text transform="translate(1806.4 694.4) scale(1 1.04)" font-size="20.1"><tspan>5 nm</tspan></text>
<line x1="1755" y1="713" x2="1801.6" y2="713" stroke="#c99810" stroke-width="2.7"/>
<g fill="url(#sy)"><circle cx="1778" cy="713" r="4.7"/></g>
<text transform="translate(1806.1 719.4) scale(1 1.04)" font-size="20.2"><tspan>7 nm</tspan></text>
</g>

</svg>
</body></html>
